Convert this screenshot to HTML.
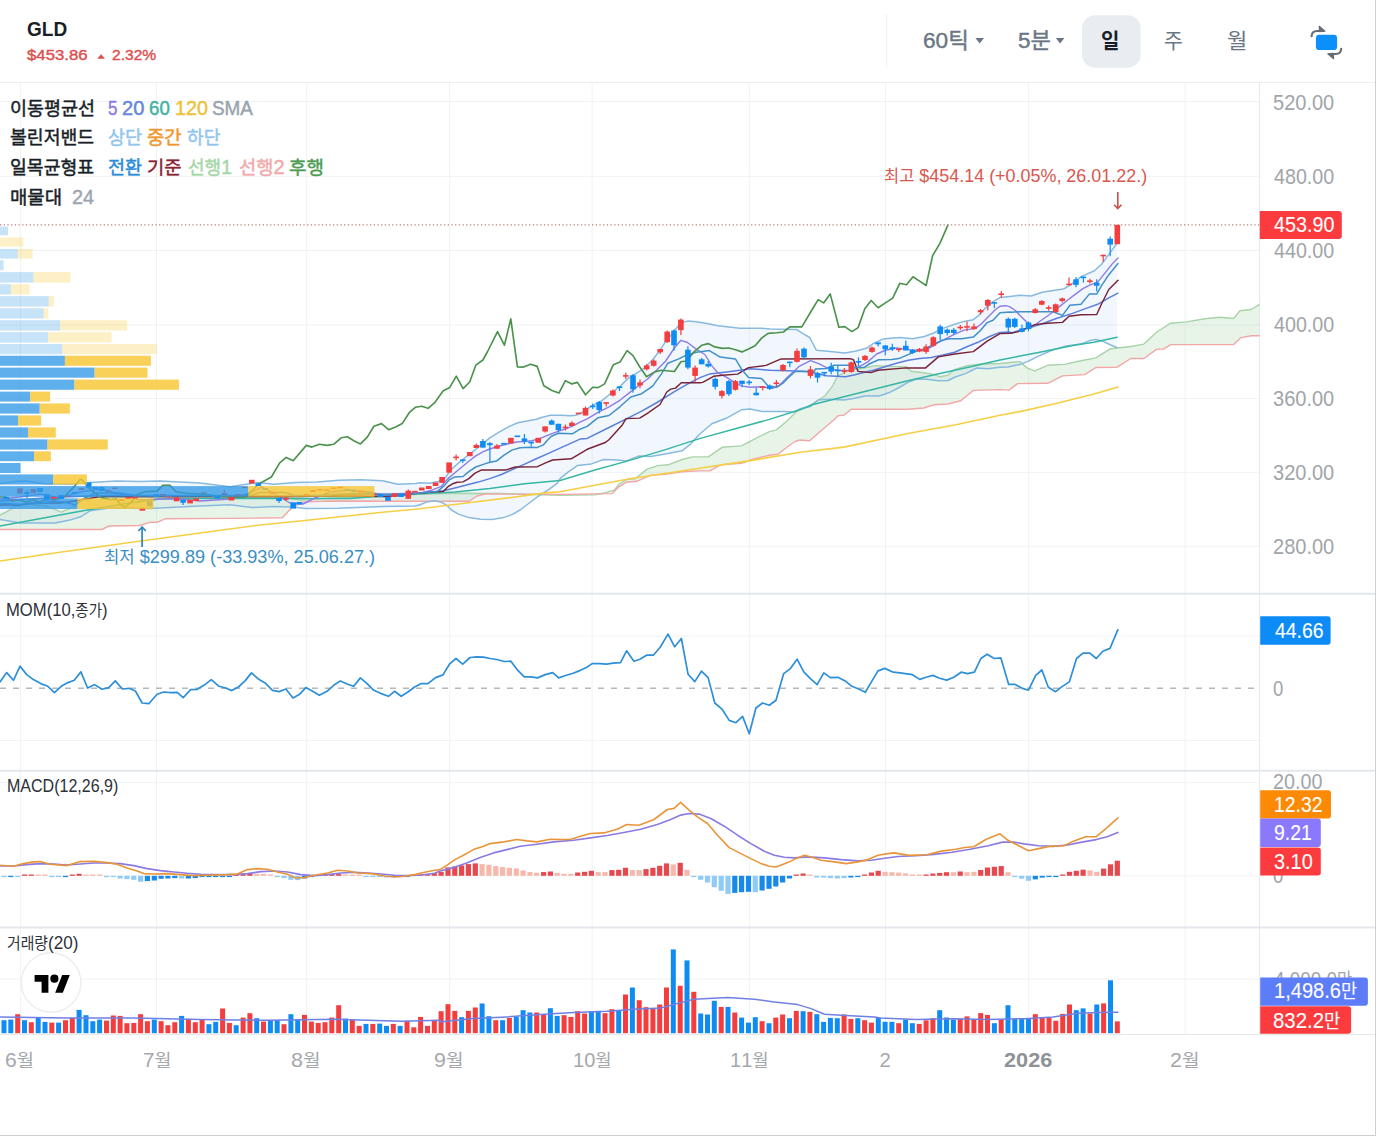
<!DOCTYPE html>
<html lang="ko"><head><meta charset="utf-8"><title>GLD chart</title>
<style>
html,body{margin:0;padding:0;background:#fff}
body{width:1376px;height:1136px;overflow:hidden;position:relative;font-family:"Liberation Sans","Noto Sans CJK KR",sans-serif}
#app{position:absolute;left:0;top:0;width:1376px;height:1136px;overflow:hidden;background:#fff}
svg.layer{position:absolute;left:0;top:0}
.t{position:absolute;white-space:pre;line-height:1.4;transform-origin:0 50%;font-kerning:none;font-family:"Liberation Sans","Noto Sans CJK KR",sans-serif}
.k{font-family:"Liberation Sans","Noto Sans CJK KR",sans-serif;line-height:1}
#frame{position:absolute;left:0;top:0;width:1375px;height:1135px;border-right:1px solid #cfcfcf;border-bottom:1px solid #cfcfcf;pointer-events:none}
</style></head>
<body><div id="app">
<svg class="layer" width="1376" height="1136" viewBox="0 0 1376 1136" shape-rendering="auto">
<line x1="20.4" y1="83" x2="20.4" y2="1034" stroke="#f0f2f4"/>
<line x1="156.5" y1="83" x2="156.5" y2="1034" stroke="#f0f2f4"/>
<line x1="306.7" y1="83" x2="306.7" y2="1034" stroke="#f0f2f4"/>
<line x1="449.6" y1="83" x2="449.6" y2="1034" stroke="#f0f2f4"/>
<line x1="592.1" y1="83" x2="592.1" y2="1034" stroke="#f0f2f4"/>
<line x1="749.3" y1="83" x2="749.3" y2="1034" stroke="#f0f2f4"/>
<line x1="885.5" y1="83" x2="885.5" y2="1034" stroke="#f0f2f4"/>
<line x1="1028.4" y1="83" x2="1028.4" y2="1034" stroke="#f0f2f4"/>
<line x1="1185.2" y1="83" x2="1185.2" y2="1034" stroke="#f0f2f4"/>
<line x1="0" y1="101.5" x2="1259.6" y2="101.5" stroke="#f0f2f4"/>
<line x1="0" y1="176.3" x2="1259.6" y2="176.3" stroke="#f0f2f4"/>
<line x1="0" y1="250.5" x2="1259.6" y2="250.5" stroke="#f0f2f4"/>
<line x1="0" y1="325" x2="1259.6" y2="325" stroke="#f0f2f4"/>
<line x1="0" y1="398.6" x2="1259.6" y2="398.6" stroke="#f0f2f4"/>
<line x1="0" y1="472.3" x2="1259.6" y2="472.3" stroke="#f0f2f4"/>
<line x1="0" y1="546.3" x2="1259.6" y2="546.3" stroke="#f0f2f4"/>
<line x1="0" y1="636.1" x2="1259.6" y2="636.1" stroke="#f0f2f4"/>
<line x1="0" y1="740.5" x2="1259.6" y2="740.5" stroke="#f0f2f4"/>
<line x1="0" y1="782.7" x2="1259.6" y2="782.7" stroke="#f0f2f4"/>
<line x1="0" y1="979" x2="1259.6" y2="979" stroke="#f0f2f4"/>
<line x1="0" y1="875.8" x2="1259.6" y2="875.8" stroke="#f0f2f4"/>
<line x1="0" y1="82.5" x2="1376" y2="82.5" stroke="#eceef1"/>
<line x1="0" y1="593.8" x2="1376" y2="593.8" stroke="#e3e7ec" stroke-width="2"/>
<line x1="0" y1="770.8" x2="1376" y2="770.8" stroke="#e3e7ec" stroke-width="2"/>
<line x1="0" y1="927.5" x2="1376" y2="927.5" stroke="#e3e7ec" stroke-width="2"/>
<line x1="0" y1="1034.5" x2="1376" y2="1034.5" stroke="#e6e8eb"/>
<line x1="1259.6" y1="83" x2="1259.6" y2="1034" stroke="#e6e8eb"/>
<line x1="886.5" y1="14" x2="886.5" y2="67" stroke="#f1f2f4"/>
<clipPath id="cp"><rect x="0" y="83" width="1259.6" height="952"/></clipPath>
<g clip-path="url(#cp)" fill="none" stroke-linejoin="round" stroke-linecap="round">
<polygon points="0,483.8 14.5,481.6 26.2,480.9 43.6,483.8 70,484 90,482.4 116.3,480.9 139.5,481.6 160,480.9 200,483.1 230,486.8 258.3,482.5 273.6,484.2 295.4,482.5 317.2,482 339,480.3 360.8,479.8 382.6,480.7 397.9,484.2 415.3,483.6 420,482.7 429.3,483.3 438.6,481.5 445.6,477.4 450.2,470.5 457.2,464.1 466.5,456.5 474.7,450.1 482.8,443.7 489.8,437.9 499.1,432.1 508.4,426.9 517.7,422.8 527,421 536.3,419.3 543.3,417 550.2,415.2 561.9,415.2 570,415.7 575.8,415.2 582.6,412.3 589.4,407.4 601.9,400.7 612.6,392 620.3,386.1 628.1,378.4 635.8,373.6 643.6,368.7 653.3,359 659.1,351.3 664.9,342.6 670.7,335.8 674.4,330.5 680.9,322.9 687.5,321.1 696.2,321.8 707.1,323.5 718,325.7 731.1,327.3 739.8,328.3 761.6,328.3 770,329 796.5,329.4 802.1,333.2 809.7,337.5 816.3,350.2 830.5,351.6 844.6,352.9 855,351.2 866.4,348.3 873.9,343.1 883.4,338.9 892.8,338 900,337.5 912.8,338.8 924.4,336.5 933.7,333 943,328.4 954.7,324.3 964,321.4 973.3,319.7 977.9,316.2 984.9,308.6 993,301.6 1000,297.6 1010,296.4 1019.8,295.3 1031.1,296 1042.2,292.3 1053.3,290.4 1063.5,289.1 1071.8,284 1081,276.6 1094,271 1101.4,264.5 1108.8,254.4 1117.1,243.3 1117.1,347.8 1110.6,345 1103.2,341.3 1095.8,339.4 1090.3,340.4 1081,344.1 1066.2,345.9 1051.4,350.5 1038.5,356.1 1027.4,361.6 1020,364.4 1008,367 1000,367.2 987.8,368.8 976.6,368 965.5,373.6 955.9,376.8 947.9,380.5 938.3,380.8 927.1,379.2 915.9,379.2 907.9,382.4 898.3,388 888.7,392.8 879.1,396 864.7,396 853.5,398.4 843.9,400 828,399.2 818.4,400 810.4,406.4 800,409 793.7,412.1 783.3,411.6 762.3,411.6 750.1,409 741.4,409.8 727.5,417.7 711.8,423.8 699.5,434.2 690.8,443.8 682.1,450.8 668.1,453.4 650.7,456.4 638.5,456.1 626.3,460.9 617.6,459.9 603.6,459.5 591.4,463.9 577.4,465.6 568.7,471.7 560,478.7 557.2,483.3 547.9,490.2 538.6,496 529.3,503 520,510 513,514.1 503.7,517.6 492.1,519.5 480.5,519.3 468.8,517.6 458.4,514.1 451.4,510 446.7,505.3 440.9,501.9 434,500.7 427,501.9 420,504.8 415.3,506 382.6,506.4 339,508.2 306.3,508.6 291,507.1 273.6,506.4 251.8,507.5 230,504.7 200,506 150,508.5 110,508 90.1,510.7 81.4,516.5 69.8,520.1 55.2,523 20.3,523 0,519.4" fill="rgba(95,160,235,0.085)" stroke="none"/>
<polygon points="0,515 8.7,510.7 14.5,506.3 30,504 48,506.3 61,512.2 69.8,508.5 85,497.2 110,497.2 140,497.2 170,497.2 200,497.2 230,497.2 255,497.2 283,497.2 300,500 330,498 380,497 420,494.3 449.1,493.3 501.4,493.5 560,495.3 594.9,494.8 605.4,492.7 614.1,490.1 619.3,484 626.3,479.6 635,478.7 647.2,469.1 657.7,465.6 668.1,464.8 682.1,459.5 692.6,456.9 708.3,456.9 722.2,447.3 741.4,445.9 751.9,440.4 769.3,431.6 776.3,429.9 786.8,421.2 793.7,414.2 800,409 808.8,406.4 816.8,400.8 824.8,396 832.8,385.6 837.6,376 847.1,371.2 859.9,368.8 875.9,365.6 891.9,366.4 906.3,366.7 911.1,371.2 923.9,372.8 933.5,374.4 939.9,376.8 947.9,375.2 954.3,369.6 967.1,365.6 981.4,364 1000,363.5 1019.8,361.6 1027.4,368.1 1034.8,370.9 1047.7,365.3 1064.4,364.4 1081,360.7 1095.8,357.9 1110.6,348.7 1130.9,346.5 1143.9,344.1 1156.8,332 1170.7,323.2 1186.4,321.9 1204.9,318.7 1219.7,317.2 1233.6,318.5 1240,310.8 1251.1,309.5 1259.6,304.3 1259.6,335.7 1251.1,335.7 1241,337.6 1233.6,344.6 1170.7,344.6 1163.3,349.1 1156.8,349.1 1143.9,358.5 1130.9,358.5 1117.1,367.2 1095.8,367.5 1084.7,374.6 1062.5,375.9 1047.7,383.3 1017.6,383.6 1008.9,390.1 1000,389.6 973.4,390.4 960.7,400.8 947.9,404 933.5,404.8 923.9,408 907.9,409.2 851.1,409.2 843.9,415.2 838.4,415.6 832.8,420.8 821.6,430.3 809.6,440.7 800,440 795.5,441.2 786.8,447.3 778,454.3 769.3,455.2 751.9,459.5 741.4,463.4 720.5,464.8 710,470.9 699.5,470.9 682.1,471.7 664.7,474.4 650.7,475.2 636.7,481.3 626.3,482.2 619.3,486.6 612.3,493.6 560,494.4 485.1,494 477,496 468.8,501.3 420,501.3 330,501 302,502.1 291,508.6 282.3,517.8 230,518.4 165.7,518.7 157,522.3 149.7,522.3 139.5,525.5 109,526 101.7,529.5 0,529.5" fill="rgba(150,205,150,0.22)" stroke="none"/>
<polyline points="0,515 8.7,510.7 14.5,506.3 30,504 48,506.3 61,512.2 69.8,508.5 85,497.2 110,497.2 140,497.2 170,497.2 200,497.2 230,497.2 255,497.2 283,497.2 300,500 330,498 380,497 420,494.3 449.1,493.3 501.4,493.5 560,495.3 594.9,494.8 605.4,492.7 614.1,490.1 619.3,484 626.3,479.6 635,478.7 647.2,469.1 657.7,465.6 668.1,464.8 682.1,459.5 692.6,456.9 708.3,456.9 722.2,447.3 741.4,445.9 751.9,440.4 769.3,431.6 776.3,429.9 786.8,421.2 793.7,414.2 800,409 808.8,406.4 816.8,400.8 824.8,396 832.8,385.6 837.6,376 847.1,371.2 859.9,368.8 875.9,365.6 891.9,366.4 906.3,366.7 911.1,371.2 923.9,372.8 933.5,374.4 939.9,376.8 947.9,375.2 954.3,369.6 967.1,365.6 981.4,364 1000,363.5 1019.8,361.6 1027.4,368.1 1034.8,370.9 1047.7,365.3 1064.4,364.4 1081,360.7 1095.8,357.9 1110.6,348.7 1130.9,346.5 1143.9,344.1 1156.8,332 1170.7,323.2 1186.4,321.9 1204.9,318.7 1219.7,317.2 1233.6,318.5 1240,310.8 1251.1,309.5 1259.6,304.3" stroke="#a9d3a9" stroke-width="1.4" />
<polyline points="0,529.5 101.7,529.5 109,526 139.5,525.5 149.7,522.3 157,522.3 165.7,518.7 230,518.4 282.3,517.8 291,508.6 302,502.1 330,501 420,501.3 468.8,501.3 477,496 485.1,494 560,494.4 612.3,493.6 619.3,486.6 626.3,482.2 636.7,481.3 650.7,475.2 664.7,474.4 682.1,471.7 699.5,470.9 710,470.9 720.5,464.8 741.4,463.4 751.9,459.5 769.3,455.2 778,454.3 786.8,447.3 795.5,441.2 800,440 809.6,440.7 821.6,430.3 832.8,420.8 838.4,415.6 843.9,415.2 851.1,409.2 907.9,409.2 923.9,408 933.5,404.8 947.9,404 960.7,400.8 973.4,390.4 1000,389.6 1008.9,390.1 1017.6,383.6 1047.7,383.3 1062.5,375.9 1084.7,374.6 1095.8,367.5 1117.1,367.2 1130.9,358.5 1143.9,358.5 1156.8,349.1 1163.3,349.1 1170.7,344.6 1233.6,344.6 1241,337.6 1251.1,335.7 1259.6,335.7" stroke="#f2a7a7" stroke-width="1.4" />
<polyline points="0,483.8 14.5,481.6 26.2,480.9 43.6,483.8 70,484 90,482.4 116.3,480.9 139.5,481.6 160,480.9 200,483.1 230,486.8 258.3,482.5 273.6,484.2 295.4,482.5 317.2,482 339,480.3 360.8,479.8 382.6,480.7 397.9,484.2 415.3,483.6 420,482.7 429.3,483.3 438.6,481.5 445.6,477.4 450.2,470.5 457.2,464.1 466.5,456.5 474.7,450.1 482.8,443.7 489.8,437.9 499.1,432.1 508.4,426.9 517.7,422.8 527,421 536.3,419.3 543.3,417 550.2,415.2 561.9,415.2 570,415.7 575.8,415.2 582.6,412.3 589.4,407.4 601.9,400.7 612.6,392 620.3,386.1 628.1,378.4 635.8,373.6 643.6,368.7 653.3,359 659.1,351.3 664.9,342.6 670.7,335.8 674.4,330.5 680.9,322.9 687.5,321.1 696.2,321.8 707.1,323.5 718,325.7 731.1,327.3 739.8,328.3 761.6,328.3 770,329 796.5,329.4 802.1,333.2 809.7,337.5 816.3,350.2 830.5,351.6 844.6,352.9 855,351.2 866.4,348.3 873.9,343.1 883.4,338.9 892.8,338 900,337.5 912.8,338.8 924.4,336.5 933.7,333 943,328.4 954.7,324.3 964,321.4 973.3,319.7 977.9,316.2 984.9,308.6 993,301.6 1000,297.6 1010,296.4 1019.8,295.3 1031.1,296 1042.2,292.3 1053.3,290.4 1063.5,289.1 1071.8,284 1081,276.6 1094,271 1101.4,264.5 1108.8,254.4 1117.1,243.3" stroke="#88badf" stroke-width="1.5" />
<polyline points="0,519.4 20.3,523 55.2,523 69.8,520.1 81.4,516.5 90.1,510.7 110,508 150,508.5 200,506 230,504.7 251.8,507.5 273.6,506.4 291,507.1 306.3,508.6 339,508.2 382.6,506.4 415.3,506 420,504.8 427,501.9 434,500.7 440.9,501.9 446.7,505.3 451.4,510 458.4,514.1 468.8,517.6 480.5,519.3 492.1,519.5 503.7,517.6 513,514.1 520,510 529.3,503 538.6,496 547.9,490.2 557.2,483.3 560,478.7 568.7,471.7 577.4,465.6 591.4,463.9 603.6,459.5 617.6,459.9 626.3,460.9 638.5,456.1 650.7,456.4 668.1,453.4 682.1,450.8 690.8,443.8 699.5,434.2 711.8,423.8 727.5,417.7 741.4,409.8 750.1,409 762.3,411.6 783.3,411.6 793.7,412.1 800,409 810.4,406.4 818.4,400 828,399.2 843.9,400 853.5,398.4 864.7,396 879.1,396 888.7,392.8 898.3,388 907.9,382.4 915.9,379.2 927.1,379.2 938.3,380.8 947.9,380.5 955.9,376.8 965.5,373.6 976.6,368 987.8,368.8 1000,367.2 1008,367 1020,364.4 1027.4,361.6 1038.5,356.1 1051.4,350.5 1066.2,345.9 1081,344.1 1090.3,340.4 1095.8,339.4 1103.2,341.3 1110.6,345 1117.1,347.8" stroke="#88badf" stroke-width="1.5" />
<polyline points="0,561 60,552.3 130,542.5 200,533 260,525 300,521 382.6,512.3 420,508.8 466.5,503 513,497.2 547.9,492.6 560,491.8 629.8,478.7 699.5,468.3 751.9,460.4 800,452.2 843.9,447.1 907.9,433.5 955.9,424.7 1000,415.2 1019.8,411.6 1057,403.2 1094,394 1118,387.1" stroke="#f6cf45" stroke-width="1.6" />
<polyline points="0,526 43.6,518 87.2,510 130.8,502.7 159.9,499.1 174.4,498.4 200,498.4 250,498.4 300,498.4 350,498.4 411,493.4 420,493.7 454.9,492 489.8,488.5 524.7,483.8 560,480.5 594.9,470 629.8,460.4 664.7,449.9 699.5,438.6 734.4,429 769.3,419.4 800,409.8 812,404.8 843.9,396.8 875.9,388.8 907.9,380.8 939.9,373.6 971.8,366.4 1000,360 1020,356.1 1038.5,352.4 1057,348.7 1075.5,345 1094,342.2 1117.1,337.2" stroke="#36b6a4" stroke-width="1.5" />
<polyline points="0,501 30,499 60,497 90,496 120,495 150,496 180,496 210,496 240,496 270,496 300,496 330,496 360,494 390,494 420,493.1 443.3,490.8 454.9,487.9 466.5,485 478.1,482.1 489.8,478.6 501.4,474.5 513,469.3 524.7,464.1 536.3,458.8 547.9,453.6 559.5,448.4 571.2,443.1 580,439.1 587.2,438.4 609,427.5 626.4,418.8 641.7,411.2 657,402.5 674.4,391.6 689.7,382.8 700.6,377.4 709.3,374.1 726.7,371.9 739.8,370.2 750.7,368.7 770,370.3 795.5,371 806.8,371.5 814.4,372.9 826.7,375.7 845.6,376.7 855,374.8 861.6,373.1 873.3,370.2 884.9,366.7 896.5,363.3 908.1,360.3 919.8,358.6 931.4,357.4 943,355.1 954.7,352.2 966.3,347 977.9,342.3 989.5,336.5 1000,332.4 1010,331.9 1011,333.2 1020,330.2 1031.1,327.4 1042.2,323.7 1057,318.2 1071.8,313.6 1084.7,308.9 1097.7,304.3 1108.8,297.8 1118,293.2" stroke="#5b7fdd" stroke-width="1.5" />
<polyline points="0,499 20,497 40,494 60,498 80,492 100,489 120,494 140,500 160,499 180,499 200,501 230,499 250,493 262,487 275,494 290,503 303,504 315,498 330,492 350,490 370,492 385,496 400,496 412,493 420,493.1 431.6,490.2 440.9,486.7 447.9,478.6 454.9,472.8 461.9,467 468.8,461.2 475.8,455.9 482.8,451.9 489.8,449 499.1,446 508.4,443.7 516.5,442 524.7,441.4 531.6,440.8 538.6,439.1 545.6,436.2 552.6,433.3 559.5,430.9 566.5,428.6 573.5,425.7 580,422.2 587.2,418.8 598.1,412.3 609,406.8 619.9,400.3 630.8,391.6 639.5,385 648.2,378.5 657,369.8 665.7,361 674.4,348 680.9,340.3 687.5,342.5 696.2,349.1 704.9,354.5 711.5,365.4 718,373 726.7,377.4 735.4,382.8 742,386.1 750.7,387.2 761.6,386.8 772.5,388.3 779,385.7 788.7,375.9 799.6,366.1 810.5,360.7 819.2,363.9 828,368.3 838.9,370.5 850,370.2 859.3,366.7 867.4,362.1 876.7,354 884.9,350.5 896.5,347.9 910.5,349.9 922.1,350.5 931.4,347 938.4,342.3 946.5,338.3 954.7,334.2 964,330.1 975.6,328.4 981.4,323.7 989.5,315.6 995.3,309.8 1000,306.3 1005.8,305.7 1010,306.9 1015.4,310.5 1020,315.4 1027.4,322.8 1032.9,326.5 1040.3,321 1049.6,314.5 1058.8,307.1 1068.1,299.7 1075.5,294.1 1082.9,288.6 1090.3,284.9 1097.7,282.1 1105.1,272.9 1112.5,263.6 1118,258.1" stroke="#8d7ce6" stroke-width="1.4" />
<polyline points="0,505 20,505 30,503 60,503 75,501 100,496.6 130,496.6 150,496.6 175,496.6 200,496.6 230,496.6 250,496.6 262,496.6 300,496.6 320,496 360,496 385,496.6 420,493.1 443.3,491.4 447.9,486.7 452.6,483.8 457.2,482.3 463,481.9 468.8,478.6 474.7,473.4 481.6,469.9 506,469.9 515.3,467 537.4,466.7 545.6,462.9 552.6,460 571.2,458.8 580,453.6 587.2,449.3 604.6,442.8 608.7,440 622.3,424.9 626.1,418.6 639.7,418.1 647.4,413.3 660,404.5 666.8,392 670.7,389.1 675.5,388.1 681.3,382.8 700,382.8 702.7,382.4 713.6,376.3 722.4,375.2 737.6,374.1 748.5,367.6 766,365.4 781.2,358.9 850,358.6 853.5,359.8 858.1,371.4 870.9,372.6 877.9,370.2 905.8,367.9 925.6,367.9 938.4,356.9 954.7,354 973.3,351.6 987.2,341.2 1000,333.6 1010,333.3 1017.6,331.9 1028.5,327.4 1034.8,324.6 1047.7,323.2 1062.5,322.4 1069,316.3 1081,314.8 1096.7,314.5 1101.4,304.3 1108.8,289.5 1118,280.3" stroke="#7a2236" stroke-width="1.45" />
<polyline points="0,503.4 8.7,503.4 14.5,504.2 30,504 55.2,501.3 64,502 75.6,504.9 85,498 95,493 120,493 135,495.6 150,495.6 165,495.6 180,495.6 200,495.6 230,495.6 250,495.6 260,492.5 285,492.5 295,495.6 320,495.6 340,494 365,493.5 385,495 405,495 420,493.1 437.4,491.4 444.4,485.6 449.1,479.8 454.9,476.9 463,476.5 468.8,471.6 475.8,467 484,464.1 489.8,462.3 496.7,460.9 503.7,455.3 511.9,450.1 520,447.8 530.5,447.2 537.4,447.4 543.3,444.9 547.9,439.7 551.4,436.2 558.4,433.3 572.3,433.8 580,429.2 587.2,426.4 598.1,417.7 609,415.5 619.9,406.8 630.8,397 641.7,393.7 652.6,386.1 661.3,374.1 667.9,363.2 678.8,358.9 685.3,355.6 696.2,352.3 709.3,350.6 720.2,357.1 735.4,358.9 742,369.8 748.5,377.4 761.6,378.5 768.1,386.1 776.9,387.2 783.4,382.8 788,378 795.5,371.2 806.8,371.5 814.4,371.5 815.3,369.1 826.7,368.4 834.2,365.2 848.4,365.2 852.2,366.8 858,367.6 864.5,367.2 870.1,363.5 878.7,359.7 891.9,359.5 898.8,358.6 907,355.1 915.1,351.6 926.7,348.1 934.9,343.5 943,340 950,338.8 961.6,338.8 973.3,337.1 980.2,330.7 987.2,322.6 993,320.2 1000,312.7 1010,312.1 1011.1,312.3 1020,311.7 1053.3,311.7 1062.5,315.4 1069.9,305.2 1081,304.3 1089.3,294.1 1096.7,294.1 1101.4,285.8 1108.8,274.7 1118,263.6" stroke="#4290c9" stroke-width="1.5" />
<polyline points="0,497 6,497 12,501 19,500 26,502 33,500 40,502 47,499 54,500 60,498 64,497 74.1,486.7 80,479.4 82.8,480.2 87.2,486 93,491.8 101.7,497.6 110.5,499.8 116.3,499.1 120.6,504.9 125,507.1 130.8,502.7 136.6,494.7 141,493.3 145.3,491.8 157,491.1 162.8,485.3 170,485.3 175.9,491.8 186,493.3 200,494 215,496 230,497 245,497 252,491 258.3,484.2 271.4,477 279.7,462.8 286.2,457.4 293.2,460.7 306.3,445.4 311.8,447.1 319.4,444.3 327,445.4 333.6,444.3 341.2,437.8 347.3,436.7 354.3,441 360.4,443.9 367.3,437.1 373.9,426.2 381.5,423.6 388.7,429.7 395.7,426.9 402.2,423.6 409.2,412.7 415.3,407.3 421.8,406.2 428,408.3 434.5,402.9 436.6,400 443.2,390.7 449.8,387.4 456.3,376.1 463.1,388.6 469.7,382 475.8,365.2 482.9,360 487.6,351.5 497.5,331.6 504.4,345.2 510.8,318.9 517.4,366.9 523.5,367.1 530.6,364.2 537.2,366.4 543.8,385.8 551.9,390.5 558.9,393.1 565.4,380.7 571.9,383.9 577.4,382.4 585.5,394.8 592.7,387.2 598.1,387.6 604.6,383.9 613.4,364.7 619.9,362.1 627.1,350.6 633,355.6 639.5,366.5 646.5,376.7 654.8,371.9 661.3,370.2 674.4,371.5 680.9,361.7 686.4,361 694,351.9 701.7,345.3 708.2,343.6 714.7,346.9 722.4,348.4 728.9,348 735.4,349.7 742,351.9 748.5,349 755.1,345.8 761.6,338.1 768.1,333.4 776.9,332.7 783.4,332 789.8,326.9 801.8,326.9 811.6,310.5 818.2,299.6 823.6,302.9 830.2,293.9 838.9,327.2 844.7,326.6 852,331.6 858.1,327.6 864.8,308.8 871.2,300.5 878.1,307.7 885.4,302.9 892.7,298.1 899.7,283.3 906.5,284.8 913,276.8 919.6,281.1 926.1,285.5 932.6,255.7 939.9,243.3 947.9,225.2" stroke="#4c924c" stroke-width="1.65" />
<line x1="0" y1="224.8" x2="1259.6" y2="224.8" stroke="#b9827c" stroke-width="1.2" stroke-dasharray="1.3 2.4" stroke-linecap="butt"/>
<rect x="3.4" y="497" width="5.6" height="2.5" fill="#0f8cf3" stroke="none"/>
<rect x="10.2" y="499" width="5.6" height="2" fill="#f33d3e" stroke="none"/>
<rect x="17.1" y="488.4" width="5.6" height="5.2" fill="#f33d3e" stroke="none"/>
<line x1="26.9" y1="490" x2="26.9" y2="498" stroke="#0f8cf3" stroke-width="1.2" stroke-linecap="butt"/>
<rect x="24.1" y="492" width="5.6" height="2" fill="#0f8cf3" stroke="none"/>
<rect x="30.6" y="489" width="5.6" height="4" fill="#f33d3e" stroke="none"/>
<rect x="37.2" y="488" width="5.6" height="4" fill="#0f8cf3" stroke="none"/>
<rect x="44" y="494" width="5.6" height="6.5" fill="#0f8cf3" stroke="none"/>
<rect x="51" y="496.5" width="5.6" height="3.5" fill="#f33d3e" stroke="none"/>
<rect x="58.2" y="495" width="5.6" height="4" fill="#0f8cf3" stroke="none"/>
<rect x="64.8" y="495.5" width="5.6" height="1.5" fill="#f33d3e" stroke="none"/>
<rect x="71.7" y="492" width="5.6" height="2" fill="#0f8cf3" stroke="none"/>
<rect x="78.7" y="488" width="5.6" height="2" fill="#f33d3e" stroke="none"/>
<rect x="85.9" y="482.4" width="5.6" height="5.8" fill="#0f8cf3" stroke="none"/>
<rect x="92.4" y="487" width="5.6" height="2" fill="#0f8cf3" stroke="none"/>
<rect x="98.9" y="487" width="5.6" height="4" fill="#0f8cf3" stroke="none"/>
<rect x="105.5" y="490.5" width="5.6" height="1.5" fill="#f33d3e" stroke="none"/>
<rect x="112" y="487.5" width="5.6" height="1.5" fill="#f33d3e" stroke="none"/>
<rect x="118.7" y="499" width="5.6" height="2" fill="#f33d3e" stroke="none"/>
<rect x="125.5" y="497" width="5.6" height="2" fill="#f33d3e" stroke="none"/>
<rect x="132.2" y="496.5" width="5.6" height="2" fill="#f33d3e" stroke="none"/>
<rect x="139.6" y="507.8" width="5.6" height="2.9" fill="#f33d3e" stroke="none"/>
<rect x="146.9" y="501.3" width="5.6" height="5" fill="#0f8cf3" stroke="none"/>
<rect x="153.5" y="494" width="5.6" height="3" fill="#0f8cf3" stroke="none"/>
<rect x="160" y="494" width="5.6" height="2" fill="#f33d3e" stroke="none"/>
<rect x="166.5" y="496" width="5.6" height="1.5" fill="#f33d3e" stroke="none"/>
<rect x="173.8" y="497.3" width="5.6" height="4" fill="#f33d3e" stroke="none"/>
<line x1="183.1" y1="499.8" x2="183.1" y2="505" stroke="#0f8cf3" stroke-width="1.2" stroke-linecap="butt"/>
<rect x="180.3" y="499.8" width="5.6" height="2.9" fill="#0f8cf3" stroke="none"/>
<rect x="187.3" y="499.8" width="5.6" height="3.6" fill="#f33d3e" stroke="none"/>
<rect x="193.4" y="498.5" width="5.6" height="2.5" fill="#f33d3e" stroke="none"/>
<rect x="201.2" y="492.5" width="5.6" height="1.5" fill="#f33d3e" stroke="none"/>
<rect x="207.9" y="494.5" width="5.6" height="1.5" fill="#0f8cf3" stroke="none"/>
<rect x="214.6" y="495.5" width="5.6" height="2.8" fill="#0f8cf3" stroke="none"/>
<line x1="224.4" y1="490" x2="224.4" y2="496.5" stroke="#f33d3e" stroke-width="1.2" stroke-linecap="butt"/>
<rect x="221.6" y="493" width="5.6" height="2" fill="#f33d3e" stroke="none"/>
<rect x="228.7" y="497" width="5.6" height="3.5" fill="#f33d3e" stroke="none"/>
<rect x="235.2" y="494" width="5.6" height="2" fill="#f33d3e" stroke="none"/>
<rect x="241.7" y="486.8" width="5.6" height="1.4" fill="#f33d3e" stroke="none"/>
<rect x="249" y="479.8" width="5.6" height="3.8" fill="#f33d3e" stroke="none"/>
<rect x="255.5" y="483.2" width="5.6" height="2.8" fill="#0f8cf3" stroke="none"/>
<rect x="262.2" y="488" width="5.6" height="2" fill="#0f8cf3" stroke="none"/>
<rect x="269.2" y="492" width="5.6" height="2" fill="#f33d3e" stroke="none"/>
<line x1="279" y1="498" x2="279" y2="503" stroke="#0f8cf3" stroke-width="1.2" stroke-linecap="butt"/>
<rect x="276.2" y="498" width="5.6" height="3" fill="#0f8cf3" stroke="none"/>
<line x1="286" y1="497" x2="286" y2="501" stroke="#f33d3e" stroke-width="1.2" stroke-linecap="butt"/>
<rect x="283.2" y="498" width="5.6" height="1.6" fill="#f33d3e" stroke="none"/>
<rect x="290.4" y="502.5" width="5.6" height="6.1" fill="#0f8cf3" stroke="none"/>
<rect x="296.5" y="502" width="5.6" height="2.5" fill="#0f8cf3" stroke="none"/>
<rect x="303.5" y="494" width="5.6" height="2" fill="#f33d3e" stroke="none"/>
<rect x="310.2" y="490" width="5.6" height="2" fill="#f33d3e" stroke="none"/>
<rect x="317.2" y="489" width="5.6" height="1.5" fill="#f33d3e" stroke="none"/>
<rect x="324" y="489.5" width="5.6" height="1.5" fill="#f33d3e" stroke="none"/>
<rect x="330.8" y="487.5" width="5.6" height="1.5" fill="#f33d3e" stroke="none"/>
<rect x="337.6" y="486.8" width="5.6" height="1.5" fill="#f33d3e" stroke="none"/>
<rect x="344.4" y="489" width="5.6" height="1.5" fill="#0f8cf3" stroke="none"/>
<rect x="351.2" y="490" width="5.6" height="2" fill="#0f8cf3" stroke="none"/>
<rect x="358" y="491" width="5.6" height="1.5" fill="#f33d3e" stroke="none"/>
<rect x="364.8" y="492.5" width="5.6" height="1.5" fill="#0f8cf3" stroke="none"/>
<rect x="371.2" y="494" width="5.6" height="1.5" fill="#f33d3e" stroke="none"/>
<rect x="377.6" y="494" width="5.6" height="3" fill="#0f8cf3" stroke="none"/>
<rect x="385.2" y="496.8" width="5.6" height="4" fill="#0f8cf3" stroke="none"/>
<rect x="391.8" y="493.3" width="5.6" height="3.6" fill="#f33d3e" stroke="none"/>
<rect x="398.3" y="494" width="5.6" height="3" fill="#0f8cf3" stroke="none"/>
<line x1="408.3" y1="489.5" x2="408.3" y2="498.8" stroke="#f33d3e" stroke-width="1.2" stroke-linecap="butt"/>
<rect x="405.5" y="490.7" width="5.6" height="8.1" fill="#f33d3e" stroke="none"/>
<rect x="412.1" y="490.8" width="5.6" height="1.6" fill="#f33d3e" stroke="none"/>
<rect x="419" y="487.5" width="5.6" height="3" fill="#f33d3e" stroke="none"/>
<rect x="426" y="486" width="5.6" height="3" fill="#f33d3e" stroke="none"/>
<rect x="432.8" y="482.5" width="5.6" height="3.5" fill="#f33d3e" stroke="none"/>
<rect x="439.3" y="477" width="5.6" height="5.9" fill="#f33d3e" stroke="none"/>
<rect x="446.3" y="462.4" width="5.6" height="10.3" fill="#f33d3e" stroke="none"/>
<line x1="456.1" y1="454.5" x2="456.1" y2="460.5" stroke="#f33d3e" stroke-width="1.2" stroke-linecap="butt"/>
<rect x="453.3" y="456.6" width="5.6" height="1.6" fill="#f33d3e" stroke="none"/>
<line x1="462.8" y1="459.4" x2="462.8" y2="463" stroke="#0f8cf3" stroke-width="1.2" stroke-linecap="butt"/>
<rect x="460" y="459.4" width="5.6" height="1.6" fill="#0f8cf3" stroke="none"/>
<rect x="467" y="452" width="5.6" height="4.2" fill="#f33d3e" stroke="none"/>
<line x1="476.3" y1="443.5" x2="476.3" y2="448" stroke="#f33d3e" stroke-width="1.2" stroke-linecap="butt"/>
<rect x="473.5" y="445" width="5.6" height="3" fill="#f33d3e" stroke="none"/>
<line x1="482.9" y1="439" x2="482.9" y2="447.6" stroke="#0f8cf3" stroke-width="1.2" stroke-linecap="butt"/>
<rect x="480.1" y="441" width="5.6" height="6.6" fill="#0f8cf3" stroke="none"/>
<line x1="489.9" y1="442" x2="489.9" y2="461.8" stroke="#0f8cf3" stroke-width="1.2" stroke-linecap="butt"/>
<rect x="487.1" y="443.2" width="5.6" height="2" fill="#0f8cf3" stroke="none"/>
<line x1="497" y1="444" x2="497" y2="448.7" stroke="#f33d3e" stroke-width="1.2" stroke-linecap="butt"/>
<rect x="494.2" y="445.5" width="5.6" height="3.2" fill="#f33d3e" stroke="none"/>
<rect x="501.2" y="442.9" width="5.6" height="1.6" fill="#0f8cf3" stroke="none"/>
<rect x="508.1" y="437.8" width="5.6" height="5.6" fill="#f33d3e" stroke="none"/>
<rect x="514.6" y="435.5" width="5.6" height="1.6" fill="#0f8cf3" stroke="none"/>
<line x1="524.4" y1="434" x2="524.4" y2="443.9" stroke="#0f8cf3" stroke-width="1.2" stroke-linecap="butt"/>
<rect x="521.6" y="438.4" width="5.6" height="3.3" fill="#0f8cf3" stroke="none"/>
<line x1="531.2" y1="441.7" x2="531.2" y2="446.5" stroke="#0f8cf3" stroke-width="1.2" stroke-linecap="butt"/>
<rect x="528.4" y="441.7" width="5.6" height="1.7" fill="#0f8cf3" stroke="none"/>
<rect x="535.4" y="437.8" width="5.6" height="5" fill="#f33d3e" stroke="none"/>
<line x1="545.1" y1="426.4" x2="545.1" y2="432.5" stroke="#f33d3e" stroke-width="1.2" stroke-linecap="butt"/>
<rect x="542.3" y="426.4" width="5.6" height="5.1" fill="#f33d3e" stroke="none"/>
<line x1="551.7" y1="419.5" x2="551.7" y2="424.7" stroke="#0f8cf3" stroke-width="1.2" stroke-linecap="butt"/>
<rect x="548.9" y="420.6" width="5.6" height="4.1" fill="#0f8cf3" stroke="none"/>
<line x1="558.4" y1="423.8" x2="558.4" y2="432.5" stroke="#0f8cf3" stroke-width="1.2" stroke-linecap="butt"/>
<rect x="555.6" y="423.8" width="5.6" height="6.3" fill="#0f8cf3" stroke="none"/>
<line x1="565.4" y1="424.5" x2="565.4" y2="430.5" stroke="#f33d3e" stroke-width="1.2" stroke-linecap="butt"/>
<rect x="562.6" y="426.7" width="5.6" height="1.6" fill="#f33d3e" stroke="none"/>
<line x1="571.9" y1="421.2" x2="571.9" y2="426" stroke="#f33d3e" stroke-width="1.2" stroke-linecap="butt"/>
<rect x="569.1" y="422.7" width="5.6" height="3.3" fill="#f33d3e" stroke="none"/>
<rect x="575.7" y="412.6" width="5.6" height="1.6" fill="#f33d3e" stroke="none"/>
<line x1="585.5" y1="406.5" x2="585.5" y2="415.5" stroke="#f33d3e" stroke-width="1.2" stroke-linecap="butt"/>
<rect x="582.7" y="407.9" width="5.6" height="7.6" fill="#f33d3e" stroke="none"/>
<line x1="592.7" y1="403.5" x2="592.7" y2="409" stroke="#0f8cf3" stroke-width="1.2" stroke-linecap="butt"/>
<rect x="589.9" y="405.6" width="5.6" height="1.6" fill="#0f8cf3" stroke="none"/>
<line x1="599.2" y1="401" x2="599.2" y2="413.4" stroke="#0f8cf3" stroke-width="1.2" stroke-linecap="butt"/>
<rect x="596.4" y="402" width="5.6" height="8.1" fill="#0f8cf3" stroke="none"/>
<line x1="606.2" y1="402.1" x2="606.2" y2="406.5" stroke="#f33d3e" stroke-width="1.2" stroke-linecap="butt"/>
<rect x="603.4" y="402.1" width="5.6" height="1.6" fill="#f33d3e" stroke="none"/>
<line x1="612.9" y1="389.5" x2="612.9" y2="396.5" stroke="#f33d3e" stroke-width="1.2" stroke-linecap="butt"/>
<rect x="610.1" y="390.5" width="5.6" height="5" fill="#f33d3e" stroke="none"/>
<line x1="619.5" y1="386.4" x2="619.5" y2="391" stroke="#0f8cf3" stroke-width="1.2" stroke-linecap="butt"/>
<rect x="616.7" y="386.4" width="5.6" height="1.6" fill="#0f8cf3" stroke="none"/>
<line x1="625.8" y1="372.5" x2="625.8" y2="379" stroke="#f33d3e" stroke-width="1.2" stroke-linecap="butt"/>
<rect x="623" y="375.1" width="5.6" height="1.6" fill="#f33d3e" stroke="none"/>
<line x1="633" y1="374" x2="633" y2="392.7" stroke="#0f8cf3" stroke-width="1.2" stroke-linecap="butt"/>
<rect x="630.2" y="375.2" width="5.6" height="14.2" fill="#0f8cf3" stroke="none"/>
<line x1="640" y1="379.6" x2="640" y2="388.3" stroke="#f33d3e" stroke-width="1.2" stroke-linecap="butt"/>
<rect x="637.2" y="382.4" width="5.6" height="3.1" fill="#f33d3e" stroke="none"/>
<line x1="646.7" y1="364" x2="646.7" y2="370.5" stroke="#f33d3e" stroke-width="1.2" stroke-linecap="butt"/>
<rect x="643.9" y="365.4" width="5.6" height="3.9" fill="#f33d3e" stroke="none"/>
<line x1="653.7" y1="359.5" x2="653.7" y2="366.5" stroke="#f33d3e" stroke-width="1.2" stroke-linecap="butt"/>
<rect x="650.9" y="360.6" width="5.6" height="5.2" fill="#f33d3e" stroke="none"/>
<line x1="660.2" y1="349" x2="660.2" y2="354" stroke="#f33d3e" stroke-width="1.2" stroke-linecap="butt"/>
<rect x="657.4" y="349" width="5.6" height="3.3" fill="#f33d3e" stroke="none"/>
<line x1="667.2" y1="330.5" x2="667.2" y2="343" stroke="#f33d3e" stroke-width="1.2" stroke-linecap="butt"/>
<rect x="664.4" y="331.6" width="5.6" height="10.5" fill="#f33d3e" stroke="none"/>
<line x1="674" y1="329.5" x2="674" y2="350.6" stroke="#0f8cf3" stroke-width="1.2" stroke-linecap="butt"/>
<rect x="671.2" y="330.5" width="5.6" height="14.8" fill="#0f8cf3" stroke="none"/>
<line x1="680.9" y1="318.5" x2="680.9" y2="334.9" stroke="#f33d3e" stroke-width="1.2" stroke-linecap="butt"/>
<rect x="678.1" y="319.6" width="5.6" height="10.5" fill="#f33d3e" stroke="none"/>
<line x1="687.9" y1="346.2" x2="687.9" y2="369.3" stroke="#0f8cf3" stroke-width="1.2" stroke-linecap="butt"/>
<rect x="685.1" y="349.7" width="5.6" height="17.9" fill="#0f8cf3" stroke="none"/>
<line x1="695.1" y1="365.5" x2="695.1" y2="381.8" stroke="#f33d3e" stroke-width="1.2" stroke-linecap="butt"/>
<rect x="692.3" y="367.6" width="5.6" height="8.3" fill="#f33d3e" stroke="none"/>
<line x1="701.7" y1="358" x2="701.7" y2="364.3" stroke="#0f8cf3" stroke-width="1.2" stroke-linecap="butt"/>
<rect x="698.9" y="359.3" width="5.6" height="5" fill="#0f8cf3" stroke="none"/>
<line x1="708.2" y1="361" x2="708.2" y2="367.6" stroke="#0f8cf3" stroke-width="1.2" stroke-linecap="butt"/>
<rect x="705.4" y="363.9" width="5.6" height="2.6" fill="#0f8cf3" stroke="none"/>
<line x1="715.2" y1="377.5" x2="715.2" y2="389.4" stroke="#0f8cf3" stroke-width="1.2" stroke-linecap="butt"/>
<rect x="712.4" y="378.9" width="5.6" height="7.9" fill="#0f8cf3" stroke="none"/>
<line x1="721.9" y1="390" x2="721.9" y2="398.5" stroke="#f33d3e" stroke-width="1.2" stroke-linecap="butt"/>
<rect x="719.1" y="391.1" width="5.6" height="4.8" fill="#f33d3e" stroke="none"/>
<line x1="728.9" y1="380" x2="728.9" y2="395.9" stroke="#0f8cf3" stroke-width="1.2" stroke-linecap="butt"/>
<rect x="726.1" y="381.1" width="5.6" height="13.1" fill="#0f8cf3" stroke="none"/>
<line x1="735.4" y1="380" x2="735.4" y2="390.5" stroke="#f33d3e" stroke-width="1.2" stroke-linecap="butt"/>
<rect x="732.6" y="381.1" width="5.6" height="8.7" fill="#f33d3e" stroke="none"/>
<line x1="742" y1="380.7" x2="742" y2="387.2" stroke="#0f8cf3" stroke-width="1.2" stroke-linecap="butt"/>
<rect x="739.2" y="380.7" width="5.6" height="3.2" fill="#0f8cf3" stroke="none"/>
<line x1="749.2" y1="380" x2="749.2" y2="385" stroke="#0f8cf3" stroke-width="1.2" stroke-linecap="butt"/>
<rect x="746.4" y="381.6" width="5.6" height="1.6" fill="#0f8cf3" stroke="none"/>
<line x1="756.2" y1="387.6" x2="756.2" y2="395.3" stroke="#0f8cf3" stroke-width="1.2" stroke-linecap="butt"/>
<rect x="753.4" y="392.7" width="5.6" height="2.6" fill="#0f8cf3" stroke="none"/>
<line x1="762.7" y1="386.4" x2="762.7" y2="390.5" stroke="#f33d3e" stroke-width="1.2" stroke-linecap="butt"/>
<rect x="759.9" y="386.4" width="5.6" height="1.6" fill="#f33d3e" stroke="none"/>
<line x1="769.7" y1="384.5" x2="769.7" y2="390" stroke="#0f8cf3" stroke-width="1.2" stroke-linecap="butt"/>
<rect x="766.9" y="385.7" width="5.6" height="3.2" fill="#0f8cf3" stroke="none"/>
<line x1="776.4" y1="380" x2="776.4" y2="386.5" stroke="#f33d3e" stroke-width="1.2" stroke-linecap="butt"/>
<rect x="773.6" y="382.5" width="5.6" height="1.6" fill="#f33d3e" stroke="none"/>
<line x1="783" y1="364" x2="783" y2="371.5" stroke="#f33d3e" stroke-width="1.2" stroke-linecap="butt"/>
<rect x="780.2" y="365" width="5.6" height="5.5" fill="#f33d3e" stroke="none"/>
<line x1="789.8" y1="361.6" x2="789.8" y2="367.2" stroke="#0f8cf3" stroke-width="1.2" stroke-linecap="butt"/>
<rect x="787" y="361.6" width="5.6" height="1.6" fill="#0f8cf3" stroke="none"/>
<line x1="797" y1="348.5" x2="797" y2="362.5" stroke="#f33d3e" stroke-width="1.2" stroke-linecap="butt"/>
<rect x="794.2" y="350.9" width="5.6" height="10.9" fill="#f33d3e" stroke="none"/>
<line x1="804" y1="347.5" x2="804" y2="358.5" stroke="#0f8cf3" stroke-width="1.2" stroke-linecap="butt"/>
<rect x="801.2" y="348.7" width="5.6" height="8.7" fill="#0f8cf3" stroke="none"/>
<line x1="810.5" y1="366.1" x2="810.5" y2="378.5" stroke="#f33d3e" stroke-width="1.2" stroke-linecap="butt"/>
<rect x="807.7" y="369.4" width="5.6" height="6.5" fill="#f33d3e" stroke="none"/>
<line x1="817.5" y1="372" x2="817.5" y2="382.5" stroke="#0f8cf3" stroke-width="1.2" stroke-linecap="butt"/>
<rect x="814.7" y="373.1" width="5.6" height="4.6" fill="#0f8cf3" stroke="none"/>
<line x1="824.3" y1="371.9" x2="824.3" y2="376.4" stroke="#0f8cf3" stroke-width="1.2" stroke-linecap="butt"/>
<rect x="821.5" y="371.9" width="5.6" height="1.6" fill="#0f8cf3" stroke="none"/>
<line x1="831.2" y1="362.8" x2="831.2" y2="374.2" stroke="#0f8cf3" stroke-width="1.2" stroke-linecap="butt"/>
<rect x="828.4" y="366.5" width="5.6" height="5.1" fill="#0f8cf3" stroke="none"/>
<line x1="837.8" y1="366.1" x2="837.8" y2="375.9" stroke="#0f8cf3" stroke-width="1.2" stroke-linecap="butt"/>
<rect x="835" y="369.7" width="5.6" height="1.6" fill="#0f8cf3" stroke="none"/>
<line x1="844.3" y1="368" x2="844.3" y2="374" stroke="#f33d3e" stroke-width="1.2" stroke-linecap="butt"/>
<rect x="841.5" y="370.3" width="5.6" height="1.6" fill="#f33d3e" stroke="none"/>
<line x1="851.3" y1="361.5" x2="851.3" y2="372.8" stroke="#f33d3e" stroke-width="1.2" stroke-linecap="butt"/>
<rect x="848.5" y="362.4" width="5.6" height="9.6" fill="#f33d3e" stroke="none"/>
<line x1="858.5" y1="357.4" x2="858.5" y2="366.1" stroke="#0f8cf3" stroke-width="1.2" stroke-linecap="butt"/>
<rect x="855.7" y="361" width="5.6" height="1.6" fill="#0f8cf3" stroke="none"/>
<line x1="865" y1="355" x2="865" y2="361" stroke="#f33d3e" stroke-width="1.2" stroke-linecap="butt"/>
<rect x="862.2" y="355.9" width="5.6" height="4.1" fill="#f33d3e" stroke="none"/>
<line x1="872" y1="346.6" x2="872" y2="352.8" stroke="#f33d3e" stroke-width="1.2" stroke-linecap="butt"/>
<rect x="869.2" y="347.6" width="5.6" height="4.3" fill="#f33d3e" stroke="none"/>
<line x1="878.1" y1="342.4" x2="878.1" y2="346.5" stroke="#0f8cf3" stroke-width="1.2" stroke-linecap="butt"/>
<rect x="875.3" y="342.4" width="5.6" height="1.9" fill="#0f8cf3" stroke="none"/>
<line x1="885.3" y1="345.4" x2="885.3" y2="355.2" stroke="#0f8cf3" stroke-width="1.2" stroke-linecap="butt"/>
<rect x="882.5" y="345.4" width="5.6" height="3.9" fill="#0f8cf3" stroke="none"/>
<line x1="892.3" y1="343.7" x2="892.3" y2="350.9" stroke="#0f8cf3" stroke-width="1.2" stroke-linecap="butt"/>
<rect x="889.5" y="347.2" width="5.6" height="2.1" fill="#0f8cf3" stroke="none"/>
<line x1="898.8" y1="348.5" x2="898.8" y2="352" stroke="#f33d3e" stroke-width="1.2" stroke-linecap="butt"/>
<rect x="896" y="348.5" width="5.6" height="1.6" fill="#f33d3e" stroke="none"/>
<line x1="905.8" y1="340.6" x2="905.8" y2="350.4" stroke="#0f8cf3" stroke-width="1.2" stroke-linecap="butt"/>
<rect x="903" y="345.8" width="5.6" height="4.6" fill="#0f8cf3" stroke="none"/>
<line x1="912.5" y1="349" x2="912.5" y2="354" stroke="#0f8cf3" stroke-width="1.2" stroke-linecap="butt"/>
<rect x="909.7" y="349.8" width="5.6" height="3.2" fill="#0f8cf3" stroke="none"/>
<line x1="919.5" y1="348" x2="919.5" y2="352.2" stroke="#f33d3e" stroke-width="1.2" stroke-linecap="butt"/>
<rect x="916.7" y="348.9" width="5.6" height="2.6" fill="#f33d3e" stroke="none"/>
<line x1="926.1" y1="344.3" x2="926.1" y2="353.7" stroke="#f33d3e" stroke-width="1.2" stroke-linecap="butt"/>
<rect x="923.3" y="346.5" width="5.6" height="5.4" fill="#f33d3e" stroke="none"/>
<line x1="933.3" y1="336.3" x2="933.3" y2="346.5" stroke="#f33d3e" stroke-width="1.2" stroke-linecap="butt"/>
<rect x="930.5" y="337.3" width="5.6" height="8.5" fill="#f33d3e" stroke="none"/>
<line x1="940.2" y1="324.7" x2="940.2" y2="340" stroke="#0f8cf3" stroke-width="1.2" stroke-linecap="butt"/>
<rect x="937.4" y="326.4" width="5.6" height="7.7" fill="#0f8cf3" stroke="none"/>
<line x1="947.2" y1="328.6" x2="947.2" y2="335.6" stroke="#0f8cf3" stroke-width="1.2" stroke-linecap="butt"/>
<rect x="944.4" y="329.7" width="5.6" height="3.3" fill="#0f8cf3" stroke="none"/>
<line x1="953.8" y1="328" x2="953.8" y2="334.5" stroke="#0f8cf3" stroke-width="1.2" stroke-linecap="butt"/>
<rect x="951" y="329.7" width="5.6" height="3.3" fill="#0f8cf3" stroke="none"/>
<line x1="960.3" y1="325" x2="960.3" y2="330" stroke="#f33d3e" stroke-width="1.2" stroke-linecap="butt"/>
<rect x="957.5" y="326.7" width="5.6" height="1.6" fill="#f33d3e" stroke="none"/>
<line x1="967" y1="321.4" x2="967" y2="331.2" stroke="#f33d3e" stroke-width="1.2" stroke-linecap="butt"/>
<rect x="964.2" y="326.1" width="5.6" height="1.6" fill="#f33d3e" stroke="none"/>
<line x1="974" y1="323.6" x2="974" y2="329.7" stroke="#f33d3e" stroke-width="1.2" stroke-linecap="butt"/>
<rect x="971.2" y="326.4" width="5.6" height="2.6" fill="#f33d3e" stroke="none"/>
<line x1="980.6" y1="309" x2="980.6" y2="314.4" stroke="#f33d3e" stroke-width="1.2" stroke-linecap="butt"/>
<rect x="977.8" y="310.1" width="5.6" height="2.2" fill="#f33d3e" stroke="none"/>
<line x1="987.8" y1="299" x2="987.8" y2="310.5" stroke="#f33d3e" stroke-width="1.2" stroke-linecap="butt"/>
<rect x="985" y="300" width="5.6" height="5.7" fill="#f33d3e" stroke="none"/>
<line x1="994.3" y1="302.1" x2="994.3" y2="308.3" stroke="#0f8cf3" stroke-width="1.2" stroke-linecap="butt"/>
<rect x="991.5" y="302.1" width="5.6" height="1.6" fill="#0f8cf3" stroke="none"/>
<line x1="1001.3" y1="290.9" x2="1001.3" y2="297.4" stroke="#f33d3e" stroke-width="1.2" stroke-linecap="butt"/>
<rect x="998.5" y="293.4" width="5.6" height="1.6" fill="#f33d3e" stroke="none"/>
<line x1="1008.3" y1="317.5" x2="1008.3" y2="332.3" stroke="#0f8cf3" stroke-width="1.2" stroke-linecap="butt"/>
<rect x="1005.5" y="318.8" width="5.6" height="8.7" fill="#0f8cf3" stroke="none"/>
<line x1="1014.8" y1="317.8" x2="1014.8" y2="328" stroke="#0f8cf3" stroke-width="1.2" stroke-linecap="butt"/>
<rect x="1012" y="318.8" width="5.6" height="8.1" fill="#0f8cf3" stroke="none"/>
<line x1="1022" y1="324.7" x2="1022" y2="332.3" stroke="#0f8cf3" stroke-width="1.2" stroke-linecap="butt"/>
<rect x="1019.2" y="328.4" width="5.6" height="3.5" fill="#0f8cf3" stroke="none"/>
<line x1="1028.5" y1="321.5" x2="1028.5" y2="331.2" stroke="#0f8cf3" stroke-width="1.2" stroke-linecap="butt"/>
<rect x="1025.7" y="322.5" width="5.6" height="6.5" fill="#0f8cf3" stroke="none"/>
<line x1="1035.2" y1="308" x2="1035.2" y2="313.6" stroke="#f33d3e" stroke-width="1.2" stroke-linecap="butt"/>
<rect x="1032.4" y="309.3" width="5.6" height="3.7" fill="#f33d3e" stroke="none"/>
<line x1="1041.8" y1="300" x2="1041.8" y2="305.3" stroke="#f33d3e" stroke-width="1.2" stroke-linecap="butt"/>
<rect x="1039" y="301" width="5.6" height="3.7" fill="#f33d3e" stroke="none"/>
<line x1="1048.7" y1="305.6" x2="1048.7" y2="310.8" stroke="#f33d3e" stroke-width="1.2" stroke-linecap="butt"/>
<rect x="1045.9" y="307.2" width="5.6" height="1.6" fill="#f33d3e" stroke="none"/>
<line x1="1055.7" y1="303.5" x2="1055.7" y2="312.8" stroke="#f33d3e" stroke-width="1.2" stroke-linecap="butt"/>
<rect x="1052.9" y="304.3" width="5.6" height="7.8" fill="#f33d3e" stroke="none"/>
<line x1="1062.2" y1="297.5" x2="1062.2" y2="302.5" stroke="#f33d3e" stroke-width="1.2" stroke-linecap="butt"/>
<rect x="1059.4" y="298.4" width="5.6" height="2.6" fill="#f33d3e" stroke="none"/>
<line x1="1069" y1="277.5" x2="1069" y2="285.2" stroke="#f33d3e" stroke-width="1.2" stroke-linecap="butt"/>
<rect x="1066.2" y="283.6" width="5.6" height="1.6" fill="#f33d3e" stroke="none"/>
<line x1="1076" y1="276.9" x2="1076" y2="287.3" stroke="#0f8cf3" stroke-width="1.2" stroke-linecap="butt"/>
<rect x="1073.2" y="279.3" width="5.6" height="5.6" fill="#0f8cf3" stroke="none"/>
<line x1="1083.4" y1="276.6" x2="1083.4" y2="282.5" stroke="#0f8cf3" stroke-width="1.2" stroke-linecap="butt"/>
<rect x="1080.6" y="276.6" width="5.6" height="1.6" fill="#0f8cf3" stroke="none"/>
<line x1="1089.9" y1="278.8" x2="1089.9" y2="283.5" stroke="#f33d3e" stroke-width="1.2" stroke-linecap="butt"/>
<rect x="1087.1" y="280.4" width="5.6" height="1.6" fill="#f33d3e" stroke="none"/>
<line x1="1096.7" y1="279.3" x2="1096.7" y2="291.4" stroke="#0f8cf3" stroke-width="1.2" stroke-linecap="butt"/>
<rect x="1093.9" y="282.7" width="5.6" height="3.1" fill="#0f8cf3" stroke="none"/>
<line x1="1103.2" y1="254.8" x2="1103.2" y2="261.7" stroke="#f33d3e" stroke-width="1.2" stroke-linecap="butt"/>
<rect x="1100.4" y="254.8" width="5.6" height="1.6" fill="#f33d3e" stroke="none"/>
<line x1="1110.2" y1="236.4" x2="1110.2" y2="256.2" stroke="#0f8cf3" stroke-width="1.2" stroke-linecap="butt"/>
<rect x="1107.4" y="238.7" width="5.6" height="5.9" fill="#0f8cf3" stroke="none"/>
<rect x="1114.5" y="224.8" width="5.6" height="19.4" fill="#f33d3e" stroke="none"/>
<rect x="0" y="226.6" width="8" height="8.7" fill="rgba(49,152,229,0.27)" stroke="none"/>
<rect x="0" y="237.5" width="23.3" height="9.2" fill="rgba(248,198,48,0.27)" stroke="none"/>
<rect x="0" y="248.9" width="17.7" height="9.7" fill="rgba(49,152,229,0.27)" stroke="none"/>
<rect x="17.7" y="248.9" width="15" height="9.7" fill="rgba(248,198,48,0.27)" stroke="none"/>
<rect x="0" y="260.3" width="3.6" height="9.9" fill="rgba(49,152,229,0.27)" stroke="none"/>
<rect x="0" y="272.1" width="33.4" height="10.5" fill="rgba(49,152,229,0.27)" stroke="none"/>
<rect x="33.4" y="272.1" width="37.1" height="10.5" fill="rgba(248,198,48,0.27)" stroke="none"/>
<rect x="0" y="284.3" width="10.9" height="10.2" fill="rgba(49,152,229,0.27)" stroke="none"/>
<rect x="10.9" y="284.3" width="18.6" height="10.2" fill="rgba(248,198,48,0.27)" stroke="none"/>
<rect x="0" y="296.1" width="48.7" height="10.5" fill="rgba(49,152,229,0.27)" stroke="none"/>
<rect x="48.7" y="296.1" width="5.1" height="10.5" fill="rgba(248,198,48,0.27)" stroke="none"/>
<rect x="0" y="308.3" width="43.6" height="10.2" fill="rgba(49,152,229,0.27)" stroke="none"/>
<rect x="43.6" y="308.3" width="4.7" height="10.2" fill="rgba(248,198,48,0.27)" stroke="none"/>
<rect x="0" y="320.2" width="60" height="10.4" fill="rgba(49,152,229,0.27)" stroke="none"/>
<rect x="60" y="320.2" width="67.2" height="10.4" fill="rgba(248,198,48,0.27)" stroke="none"/>
<rect x="0" y="332.2" width="48" height="10.4" fill="rgba(49,152,229,0.27)" stroke="none"/>
<rect x="48" y="332.2" width="63.6" height="10.4" fill="rgba(248,198,48,0.27)" stroke="none"/>
<rect x="0" y="344" width="62.2" height="10.2" fill="rgba(49,152,229,0.27)" stroke="none"/>
<rect x="62.2" y="344" width="94.5" height="10.2" fill="rgba(248,198,48,0.27)" stroke="none"/>
<rect x="0" y="355.7" width="64.9" height="10.1" fill="rgba(49,152,229,0.78)" stroke="none"/>
<rect x="64.9" y="355.7" width="86" height="10.1" fill="rgba(248,198,48,0.80)" stroke="none"/>
<rect x="0" y="367.6" width="94.6" height="10.1" fill="rgba(49,152,229,0.78)" stroke="none"/>
<rect x="94.6" y="367.6" width="52.9" height="10.1" fill="rgba(248,198,48,0.80)" stroke="none"/>
<rect x="0" y="379.6" width="74.4" height="10.2" fill="rgba(49,152,229,0.78)" stroke="none"/>
<rect x="74.4" y="379.6" width="104.5" height="10.2" fill="rgba(248,198,48,0.80)" stroke="none"/>
<rect x="0" y="391.6" width="30.2" height="10" fill="rgba(49,152,229,0.78)" stroke="none"/>
<rect x="30.2" y="391.6" width="19.9" height="10" fill="rgba(248,198,48,0.80)" stroke="none"/>
<rect x="0" y="403.4" width="39.7" height="10.2" fill="rgba(49,152,229,0.78)" stroke="none"/>
<rect x="39.7" y="403.4" width="30.2" height="10.2" fill="rgba(248,198,48,0.80)" stroke="none"/>
<rect x="0" y="415.4" width="18" height="10.2" fill="rgba(49,152,229,0.78)" stroke="none"/>
<rect x="18" y="415.4" width="23.2" height="10.2" fill="rgba(248,198,48,0.80)" stroke="none"/>
<rect x="0" y="427.4" width="28" height="10.2" fill="rgba(49,152,229,0.78)" stroke="none"/>
<rect x="28" y="427.4" width="27.8" height="10.2" fill="rgba(248,198,48,0.80)" stroke="none"/>
<rect x="0" y="439.4" width="47.5" height="10.2" fill="rgba(49,152,229,0.78)" stroke="none"/>
<rect x="47.5" y="439.4" width="60.3" height="10.2" fill="rgba(248,198,48,0.80)" stroke="none"/>
<rect x="0" y="451.3" width="34" height="9.9" fill="rgba(49,152,229,0.78)" stroke="none"/>
<rect x="34" y="451.3" width="16.9" height="9.9" fill="rgba(248,198,48,0.80)" stroke="none"/>
<rect x="0" y="463" width="20.5" height="10" fill="rgba(49,152,229,0.78)" stroke="none"/>
<rect x="0" y="474.4" width="53.3" height="10.1" fill="rgba(49,152,229,0.78)" stroke="none"/>
<rect x="53.3" y="474.4" width="33.6" height="10.1" fill="rgba(248,198,48,0.80)" stroke="none"/>
<rect x="0" y="486.1" width="248.3" height="10.7" fill="rgba(49,152,229,0.78)" stroke="none"/>
<rect x="248.3" y="486.1" width="126.2" height="10.7" fill="rgba(248,198,48,0.80)" stroke="none"/>
<rect x="0" y="498.4" width="77.5" height="10.6" fill="rgba(49,152,229,0.78)" stroke="none"/>
<rect x="77.5" y="498.4" width="76" height="10.6" fill="rgba(248,198,48,0.80)" stroke="none"/>
<line x1="0" y1="688.3" x2="1259.6" y2="688.3" stroke="#b4b8bd" stroke-width="1.4" stroke-dasharray="6 7" stroke-linecap="butt"/>
<polyline points="0,681.9 6.7,672.6 13.4,680.3 20.1,666.2 26.7,674.6 33.4,679.6 40.8,683.6 47.8,686.3 54.5,692.6 61.2,686.3 67.9,682.6 74.2,680.3 80.9,671.9 87.6,688 94.6,684.6 102,689.3 108.7,687.6 115.3,680.9 122.4,689 129.1,688.3 135.4,691 142.1,703 148.8,703.7 157.1,694.3 163.8,692 170.5,692.6 177.2,692.3 183.2,697.7 190.6,689.6 197.3,689.3 203.9,685.3 211.3,679.6 219,686.3 225.7,688 231.7,690.6 238.4,687 245.1,680.9 251.4,672.9 259.1,679.6 265.1,682.9 272.5,690.3 279.2,691.6 285.9,689 292.9,698 299.2,694.6 305.9,687.6 312.6,691.3 319.3,695.3 327,691.3 333.7,685.3 340.4,680.9 347.7,684.3 353.7,686.3 360.4,677.9 367.1,683.6 373.8,690.3 381.1,693.6 388.5,696.3 394.5,691.3 401.2,696.3 407.9,692 414.6,687 421.3,683.6 427.9,683.6 435.6,677.6 443,674.9 449.4,664.2 456,658.5 462.7,664.2 470.1,657.5 476.8,656.9 483.5,657.2 490.1,658.5 496.8,659.5 504.2,661.5 510.9,661.2 517.6,670.2 524.3,676.9 530.9,676.9 537.6,677.9 545.3,674.6 552.7,672.6 558.7,677.9 566.4,675.3 573.1,673.3 579.8,670.6 586.4,667.6 592.1,663.6 599.8,663.6 606.5,664.2 613.2,663.2 620.5,662.6 626.6,650.8 633.9,661.2 639.9,659.2 646.6,655.2 653.3,655.2 660,647.5 668,634.1 674.7,646.8 681.4,638.5 688.1,674.3 694.8,681.6 701.4,671.2 708.1,677.6 714.8,703 722.5,709.7 729.2,720.4 735.9,722.7 742.6,716.4 749.3,733.8 755.9,708 762.6,703 769.3,705.3 776,700.3 783.7,673.6 790.4,668.6 797.1,659.2 803.8,671.9 810.4,678.6 817.1,684.6 823.8,672.9 830.5,677.6 837.9,677.3 845.2,680.9 851.9,686.3 858.6,689 865.3,692.3 872,680.9 878,670.9 884.7,668.4 893.3,672.2 899.8,672.9 912.4,674.7 919.7,679.4 926.1,677.2 933,675.4 939.5,678.3 946.7,680.1 953.9,677.2 961.1,672.2 967.6,673.6 974.4,672.2 980.9,658.5 987.1,654.2 994.3,658.5 1000.8,657.8 1008.7,684.4 1015.2,684.4 1021.7,688.1 1028.5,690.2 1035.7,675.4 1041.9,670 1048.3,687.3 1055.6,691.7 1062,686.6 1069.3,681.9 1076.5,658.5 1083,653.1 1089.8,653.1 1096.3,658.5 1102.8,651.3 1110,648.4 1117.9,629.7" stroke="#2d8fd8" stroke-width="1.7" />
<rect x="1.4" y="875.8" width="5.2" height="1.3" fill="#8fcbf6" stroke="none"/>
<rect x="8.2" y="875.8" width="5.2" height="1.3" fill="#1789ea" stroke="none"/>
<rect x="15.1" y="875.8" width="5.2" height="1.3" fill="#8fcbf6" stroke="none"/>
<rect x="21.9" y="874.5" width="5.2" height="1.3" fill="#e5484d" stroke="none"/>
<rect x="28.7" y="874.5" width="5.2" height="1.3" fill="#e5484d" stroke="none"/>
<rect x="35.6" y="874.5" width="5.2" height="1.3" fill="#f7b7ab" stroke="none"/>
<rect x="42.4" y="874.5" width="5.2" height="1.3" fill="#f7b7ab" stroke="none"/>
<rect x="49.2" y="875.8" width="5.2" height="1.3" fill="#8fcbf6" stroke="none"/>
<rect x="56" y="875.8" width="5.2" height="1.3" fill="#8fcbf6" stroke="none"/>
<rect x="62.9" y="875.8" width="5.2" height="1.3" fill="#1789ea" stroke="none"/>
<rect x="69.7" y="874.5" width="5.2" height="1.3" fill="#e5484d" stroke="none"/>
<rect x="76.5" y="873.8" width="5.2" height="2" fill="#e5484d" stroke="none"/>
<rect x="83.4" y="874.5" width="5.2" height="1.3" fill="#f7b7ab" stroke="none"/>
<rect x="90.2" y="874.5" width="5.2" height="1.3" fill="#f7b7ab" stroke="none"/>
<rect x="97" y="874.5" width="5.2" height="1.3" fill="#f7b7ab" stroke="none"/>
<rect x="103.9" y="875.8" width="5.2" height="1.3" fill="#8fcbf6" stroke="none"/>
<rect x="110.7" y="875.8" width="5.2" height="1.3" fill="#8fcbf6" stroke="none"/>
<rect x="117.5" y="875.8" width="5.2" height="2.7" fill="#8fcbf6" stroke="none"/>
<rect x="124.3" y="875.8" width="5.2" height="3.3" fill="#8fcbf6" stroke="none"/>
<rect x="131.2" y="875.8" width="5.2" height="4" fill="#8fcbf6" stroke="none"/>
<rect x="138" y="875.8" width="5.2" height="6" fill="#8fcbf6" stroke="none"/>
<rect x="144.8" y="875.8" width="5.2" height="5.3" fill="#1789ea" stroke="none"/>
<rect x="151.7" y="875.8" width="5.2" height="4.7" fill="#1789ea" stroke="none"/>
<rect x="158.5" y="875.8" width="5.2" height="3" fill="#1789ea" stroke="none"/>
<rect x="165.3" y="875.8" width="5.2" height="2.7" fill="#1789ea" stroke="none"/>
<rect x="172.2" y="875.8" width="5.2" height="2.3" fill="#1789ea" stroke="none"/>
<rect x="179" y="875.8" width="5.2" height="2.7" fill="#8fcbf6" stroke="none"/>
<rect x="185.8" y="875.8" width="5.2" height="2.7" fill="#1789ea" stroke="none"/>
<rect x="192.7" y="875.8" width="5.2" height="2.3" fill="#1789ea" stroke="none"/>
<rect x="199.5" y="875.8" width="5.2" height="1.3" fill="#1789ea" stroke="none"/>
<rect x="206.3" y="875.8" width="5.2" height="1.3" fill="#1789ea" stroke="none"/>
<rect x="213.1" y="875.8" width="5.2" height="1.3" fill="#1789ea" stroke="none"/>
<rect x="220" y="875.8" width="5.2" height="1.3" fill="#1789ea" stroke="none"/>
<rect x="226.8" y="875.8" width="5.2" height="1.3" fill="#1789ea" stroke="none"/>
<rect x="233.6" y="874.5" width="5.2" height="1.3" fill="#e5484d" stroke="none"/>
<rect x="240.5" y="874.1" width="5.2" height="1.7" fill="#e5484d" stroke="none"/>
<rect x="247.3" y="873.1" width="5.2" height="2.7" fill="#e5484d" stroke="none"/>
<rect x="254.1" y="873.8" width="5.2" height="2" fill="#f7b7ab" stroke="none"/>
<rect x="260.9" y="873.8" width="5.2" height="2" fill="#f7b7ab" stroke="none"/>
<rect x="267.8" y="874.5" width="5.2" height="1.3" fill="#f7b7ab" stroke="none"/>
<rect x="274.6" y="875.8" width="5.2" height="1.3" fill="#8fcbf6" stroke="none"/>
<rect x="281.4" y="875.8" width="5.2" height="2.3" fill="#8fcbf6" stroke="none"/>
<rect x="288.3" y="875.8" width="5.2" height="4" fill="#8fcbf6" stroke="none"/>
<rect x="295.1" y="875.8" width="5.2" height="4.3" fill="#8fcbf6" stroke="none"/>
<rect x="301.9" y="875.8" width="5.2" height="2.7" fill="#1789ea" stroke="none"/>
<rect x="308.8" y="875.8" width="5.2" height="1.3" fill="#1789ea" stroke="none"/>
<rect x="315.6" y="874.5" width="5.2" height="1.3" fill="#e5484d" stroke="none"/>
<rect x="322.4" y="874.5" width="5.2" height="1.3" fill="#e5484d" stroke="none"/>
<rect x="329.2" y="874.1" width="5.2" height="1.7" fill="#e5484d" stroke="none"/>
<rect x="336.1" y="874.1" width="5.2" height="1.7" fill="#e5484d" stroke="none"/>
<rect x="342.9" y="874.5" width="5.2" height="1.3" fill="#f7b7ab" stroke="none"/>
<rect x="349.7" y="874.5" width="5.2" height="1.3" fill="#f7b7ab" stroke="none"/>
<rect x="356.6" y="874.5" width="5.2" height="1.3" fill="#f7b7ab" stroke="none"/>
<rect x="363.4" y="875.8" width="5.2" height="1.3" fill="#8fcbf6" stroke="none"/>
<rect x="370.2" y="875.8" width="5.2" height="1.3" fill="#8fcbf6" stroke="none"/>
<rect x="377.1" y="875.8" width="5.2" height="1.3" fill="#8fcbf6" stroke="none"/>
<rect x="383.9" y="875.8" width="5.2" height="1.7" fill="#8fcbf6" stroke="none"/>
<rect x="390.7" y="875.8" width="5.2" height="1.3" fill="#1789ea" stroke="none"/>
<rect x="397.5" y="875.8" width="5.2" height="1.3" fill="#1789ea" stroke="none"/>
<rect x="404.4" y="875.8" width="5.2" height="1.3" fill="#1789ea" stroke="none"/>
<rect x="411.2" y="874.5" width="5.2" height="1.3" fill="#e5484d" stroke="none"/>
<rect x="418" y="874.5" width="5.2" height="1.3" fill="#e5484d" stroke="none"/>
<rect x="424.9" y="874.1" width="5.2" height="1.7" fill="#e5484d" stroke="none"/>
<rect x="431.7" y="873.1" width="5.2" height="2.7" fill="#e5484d" stroke="none"/>
<rect x="438.5" y="871.8" width="5.2" height="4" fill="#e5484d" stroke="none"/>
<rect x="445.4" y="867.4" width="5.2" height="8.4" fill="#e5484d" stroke="none"/>
<rect x="452.2" y="866.4" width="5.2" height="9.4" fill="#e5484d" stroke="none"/>
<rect x="459" y="865.4" width="5.2" height="10.4" fill="#e5484d" stroke="none"/>
<rect x="465.8" y="864.1" width="5.2" height="11.7" fill="#e5484d" stroke="none"/>
<rect x="472.7" y="863.4" width="5.2" height="12.4" fill="#e5484d" stroke="none"/>
<rect x="479.5" y="864.1" width="5.2" height="11.7" fill="#f7b7ab" stroke="none"/>
<rect x="486.3" y="864.8" width="5.2" height="11" fill="#f7b7ab" stroke="none"/>
<rect x="493.2" y="866.1" width="5.2" height="9.7" fill="#f7b7ab" stroke="none"/>
<rect x="500" y="867.1" width="5.2" height="8.7" fill="#f7b7ab" stroke="none"/>
<rect x="506.8" y="867.8" width="5.2" height="8" fill="#f7b7ab" stroke="none"/>
<rect x="513.7" y="868.4" width="5.2" height="7.4" fill="#f7b7ab" stroke="none"/>
<rect x="520.5" y="870.5" width="5.2" height="5.3" fill="#f7b7ab" stroke="none"/>
<rect x="527.3" y="872.1" width="5.2" height="3.7" fill="#f7b7ab" stroke="none"/>
<rect x="534.1" y="872.8" width="5.2" height="3" fill="#f7b7ab" stroke="none"/>
<rect x="541" y="872.1" width="5.2" height="3.7" fill="#e5484d" stroke="none"/>
<rect x="547.8" y="871.5" width="5.2" height="4.3" fill="#e5484d" stroke="none"/>
<rect x="554.6" y="872.8" width="5.2" height="3" fill="#f7b7ab" stroke="none"/>
<rect x="561.5" y="873.8" width="5.2" height="2" fill="#f7b7ab" stroke="none"/>
<rect x="568.3" y="873.8" width="5.2" height="2" fill="#f7b7ab" stroke="none"/>
<rect x="575.1" y="872.5" width="5.2" height="3.3" fill="#e5484d" stroke="none"/>
<rect x="582" y="871.8" width="5.2" height="4" fill="#e5484d" stroke="none"/>
<rect x="588.8" y="870.8" width="5.2" height="5" fill="#e5484d" stroke="none"/>
<rect x="595.6" y="872.1" width="5.2" height="3.7" fill="#f7b7ab" stroke="none"/>
<rect x="602.4" y="872.1" width="5.2" height="3.7" fill="#f7b7ab" stroke="none"/>
<rect x="609.3" y="870.1" width="5.2" height="5.7" fill="#e5484d" stroke="none"/>
<rect x="616.1" y="869.8" width="5.2" height="6" fill="#e5484d" stroke="none"/>
<rect x="622.9" y="867.8" width="5.2" height="8" fill="#e5484d" stroke="none"/>
<rect x="629.8" y="870.1" width="5.2" height="5.7" fill="#f7b7ab" stroke="none"/>
<rect x="636.6" y="870.1" width="5.2" height="5.7" fill="#f7b7ab" stroke="none"/>
<rect x="643.4" y="869.1" width="5.2" height="6.7" fill="#e5484d" stroke="none"/>
<rect x="650.3" y="867.8" width="5.2" height="8" fill="#e5484d" stroke="none"/>
<rect x="657.1" y="865.8" width="5.2" height="10" fill="#e5484d" stroke="none"/>
<rect x="663.9" y="863.4" width="5.2" height="12.4" fill="#e5484d" stroke="none"/>
<rect x="670.7" y="864.4" width="5.2" height="11.4" fill="#f7b7ab" stroke="none"/>
<rect x="677.6" y="862.8" width="5.2" height="13" fill="#e5484d" stroke="none"/>
<rect x="684.4" y="869.8" width="5.2" height="6" fill="#f7b7ab" stroke="none"/>
<rect x="691.2" y="875.8" width="5.2" height="1.3" fill="#8fcbf6" stroke="none"/>
<rect x="698.1" y="875.8" width="5.2" height="4" fill="#8fcbf6" stroke="none"/>
<rect x="704.9" y="875.8" width="5.2" height="6.7" fill="#8fcbf6" stroke="none"/>
<rect x="711.7" y="875.8" width="5.2" height="11.4" fill="#8fcbf6" stroke="none"/>
<rect x="718.6" y="875.8" width="5.2" height="15" fill="#8fcbf6" stroke="none"/>
<rect x="725.4" y="875.8" width="5.2" height="18.1" fill="#8fcbf6" stroke="none"/>
<rect x="732.2" y="875.8" width="5.2" height="17.1" fill="#1789ea" stroke="none"/>
<rect x="739" y="875.8" width="5.2" height="16.4" fill="#1789ea" stroke="none"/>
<rect x="745.9" y="875.8" width="5.2" height="16" fill="#1789ea" stroke="none"/>
<rect x="752.7" y="875.8" width="5.2" height="16.4" fill="#8fcbf6" stroke="none"/>
<rect x="759.5" y="875.8" width="5.2" height="14.7" fill="#1789ea" stroke="none"/>
<rect x="766.4" y="875.8" width="5.2" height="13" fill="#1789ea" stroke="none"/>
<rect x="773.2" y="875.8" width="5.2" height="10.7" fill="#1789ea" stroke="none"/>
<rect x="780" y="875.8" width="5.2" height="6.7" fill="#1789ea" stroke="none"/>
<rect x="786.9" y="875.8" width="5.2" height="2.7" fill="#1789ea" stroke="none"/>
<rect x="793.7" y="874.5" width="5.2" height="1.3" fill="#e5484d" stroke="none"/>
<rect x="800.5" y="873.5" width="5.2" height="2.3" fill="#e5484d" stroke="none"/>
<rect x="807.3" y="874.5" width="5.2" height="1.3" fill="#f7b7ab" stroke="none"/>
<rect x="814.2" y="875.8" width="5.2" height="1.7" fill="#8fcbf6" stroke="none"/>
<rect x="821" y="875.8" width="5.2" height="1.7" fill="#8fcbf6" stroke="none"/>
<rect x="827.8" y="875.8" width="5.2" height="2.3" fill="#8fcbf6" stroke="none"/>
<rect x="834.7" y="875.8" width="5.2" height="2.7" fill="#8fcbf6" stroke="none"/>
<rect x="841.5" y="875.8" width="5.2" height="2.3" fill="#8fcbf6" stroke="none"/>
<rect x="848.3" y="875.8" width="5.2" height="1.7" fill="#1789ea" stroke="none"/>
<rect x="855.2" y="875.8" width="5.2" height="1.3" fill="#1789ea" stroke="none"/>
<rect x="862" y="874.5" width="5.2" height="1.3" fill="#e5484d" stroke="none"/>
<rect x="868.8" y="872.5" width="5.2" height="3.3" fill="#e5484d" stroke="none"/>
<rect x="875.6" y="870.8" width="5.2" height="5" fill="#e5484d" stroke="none"/>
<rect x="882.5" y="871.8" width="5.2" height="4" fill="#f7b7ab" stroke="none"/>
<rect x="889.3" y="872.2" width="5.2" height="3.6" fill="#f7b7ab" stroke="none"/>
<rect x="896.1" y="872.6" width="5.2" height="3.2" fill="#f7b7ab" stroke="none"/>
<rect x="903" y="873.3" width="5.2" height="2.5" fill="#f7b7ab" stroke="none"/>
<rect x="909.8" y="874.4" width="5.2" height="1.4" fill="#f7b7ab" stroke="none"/>
<rect x="916.6" y="874.5" width="5.2" height="1.3" fill="#f7b7ab" stroke="none"/>
<rect x="923.5" y="874.5" width="5.2" height="1.3" fill="#e5484d" stroke="none"/>
<rect x="930.3" y="873.6" width="5.2" height="2.2" fill="#e5484d" stroke="none"/>
<rect x="937.1" y="872.9" width="5.2" height="2.9" fill="#e5484d" stroke="none"/>
<rect x="943.9" y="872.2" width="5.2" height="3.6" fill="#e5484d" stroke="none"/>
<rect x="950.8" y="872.2" width="5.2" height="3.6" fill="#f7b7ab" stroke="none"/>
<rect x="957.6" y="871.5" width="5.2" height="4.3" fill="#e5484d" stroke="none"/>
<rect x="964.4" y="872.2" width="5.2" height="3.6" fill="#f7b7ab" stroke="none"/>
<rect x="971.3" y="871.8" width="5.2" height="4" fill="#f7b7ab" stroke="none"/>
<rect x="978.1" y="870" width="5.2" height="5.8" fill="#e5484d" stroke="none"/>
<rect x="984.9" y="867.5" width="5.2" height="8.3" fill="#e5484d" stroke="none"/>
<rect x="991.8" y="866.8" width="5.2" height="9" fill="#e5484d" stroke="none"/>
<rect x="998.6" y="866.1" width="5.2" height="9.7" fill="#e5484d" stroke="none"/>
<rect x="1005.4" y="872.2" width="5.2" height="3.6" fill="#f7b7ab" stroke="none"/>
<rect x="1012.2" y="875.8" width="5.2" height="1.3" fill="#8fcbf6" stroke="none"/>
<rect x="1019.1" y="875.8" width="5.2" height="2.9" fill="#8fcbf6" stroke="none"/>
<rect x="1025.9" y="875.8" width="5.2" height="5" fill="#8fcbf6" stroke="none"/>
<rect x="1032.7" y="875.8" width="5.2" height="3.6" fill="#1789ea" stroke="none"/>
<rect x="1039.6" y="875.8" width="5.2" height="1.8" fill="#1789ea" stroke="none"/>
<rect x="1046.4" y="875.8" width="5.2" height="1.3" fill="#1789ea" stroke="none"/>
<rect x="1053.2" y="875.8" width="5.2" height="1.3" fill="#1789ea" stroke="none"/>
<rect x="1060.1" y="874.5" width="5.2" height="1.3" fill="#e5484d" stroke="none"/>
<rect x="1066.9" y="871.8" width="5.2" height="4" fill="#e5484d" stroke="none"/>
<rect x="1073.7" y="870.8" width="5.2" height="5" fill="#e5484d" stroke="none"/>
<rect x="1080.5" y="869.7" width="5.2" height="6.1" fill="#e5484d" stroke="none"/>
<rect x="1087.4" y="870.4" width="5.2" height="5.4" fill="#f7b7ab" stroke="none"/>
<rect x="1094.2" y="871.8" width="5.2" height="4" fill="#f7b7ab" stroke="none"/>
<rect x="1101" y="868.6" width="5.2" height="7.2" fill="#e5484d" stroke="none"/>
<rect x="1107.9" y="864.3" width="5.2" height="11.5" fill="#e5484d" stroke="none"/>
<rect x="1114.7" y="860.7" width="5.2" height="15.1" fill="#e5484d" stroke="none"/>
<polyline points="0,866 13.4,866 26.7,864.6 40.1,863.6 53.5,864 66.9,865 80.2,864 93.6,863 107,863 120.4,863.6 133.7,865.6 147.1,868.6 160.5,870.6 173.9,872 187.2,873.3 200.6,874.3 214,874.6 234,874.6 247.4,873.6 260.8,871.6 274.2,871 287.5,872 300.9,874.6 314.3,875.6 327.6,874.6 341,873 354.4,872.3 367.8,873 381.1,874 394.5,875.3 407.9,875.6 421.3,875 434.6,873.3 440,871 453.4,867.6 466.7,862.9 480.1,857.6 493.5,852.9 506.9,849.6 520.2,846.2 537,844.2 553.7,841.9 573.7,840.2 590.4,837.9 607.2,835.5 623.9,832.5 640.6,829.2 657.3,824.5 670.7,819.5 680.7,815.1 689.1,813.5 699.1,814.1 710.8,818.5 724.2,826.2 737.6,835.2 750.9,843.6 764.3,851.2 774.3,855.3 784.4,857.3 794.4,857.9 807.8,856.9 824.5,857.9 841.2,859.6 857.9,860.9 871.3,860.3 884.7,858.3 898,856.5 916,855.8 934.1,854.4 952.1,852.2 970.1,849.3 988.2,845.7 1002.6,842.1 1013.4,842.1 1024.2,843.9 1038.6,845.7 1053,846.4 1067.5,845 1081.9,842.1 1096.3,839.6 1107.1,836.7 1117.9,832.4" stroke="#8b7ae2" stroke-width="1.6" />
<polyline points="0,865.3 13.4,866.3 23.4,863.6 33.4,861.9 40.1,861.6 50.2,864.3 66.9,865.6 80.2,861.6 93.6,861.3 107,862.6 117,864.3 127,868 137.1,871 143.8,873.6 153.8,874 167.2,873.6 180.5,874.6 193.9,875.6 207.3,875.3 227.3,874.6 237.4,874 247.4,869.6 257.4,868.6 267.5,869.3 277.5,872 287.5,874.3 295.9,878 304.2,877.6 314.3,875.3 327.6,873 337.7,870.3 347.7,871 357.7,873 371.1,873.6 384.5,876 394.5,877 404.5,876.3 414.6,874.6 424.6,872.3 434.6,870.3 440,869.6 446.7,865.3 455,859.6 463.4,855.3 473.4,849.6 483.5,846.2 490.1,843.6 503.5,841.9 516.9,839.5 526.9,840.9 537,841.9 550.3,839.2 560.4,839.5 570.4,839.5 580.4,836.2 590.4,833.5 603.8,832.9 617.2,829.2 626.6,824.5 638.9,825.2 654,819.5 667.3,809.5 674,808.4 680.7,802.4 689.1,810.1 697.4,816.8 707.5,823.5 717.5,835.2 729.2,847.6 740.9,853.6 750.9,858.6 761,863.6 769.3,866.3 776,867 787.7,862.6 796.1,858.6 804.4,855.3 812.8,857.6 821.1,860.3 834.5,861.9 846.2,863.6 857.9,861.9 868,859.6 878,855.3 888,853.6 894.4,852.9 908.8,855.4 926.9,854.7 941.3,851.1 955.7,849.3 964.7,847.5 973.7,846.8 986.3,839.2 1000,833.8 1008,840.3 1018.8,845.7 1028.5,850.7 1038.6,848.6 1049.4,846.4 1063.9,845.7 1072.9,841.4 1085.5,836.7 1096.3,836.7 1107.1,827.7 1117.9,817.9" stroke="#e8953a" stroke-width="1.6" />
<rect x="1.5" y="1020.2" width="5" height="13" fill="#0f8cf3" stroke="none"/>
<rect x="8.3" y="1019.6" width="5" height="13.6" fill="#0f8cf3" stroke="none"/>
<rect x="15.2" y="1014.2" width="5" height="19" fill="#f33d3e" stroke="none"/>
<rect x="22" y="1020.2" width="5" height="13" fill="#0f8cf3" stroke="none"/>
<rect x="28.8" y="1022.2" width="5" height="11" fill="#f33d3e" stroke="none"/>
<rect x="35.7" y="1017.6" width="5" height="15.6" fill="#0f8cf3" stroke="none"/>
<rect x="42.5" y="1021.9" width="5" height="11.3" fill="#0f8cf3" stroke="none"/>
<rect x="49.3" y="1022.6" width="5" height="10.6" fill="#f33d3e" stroke="none"/>
<rect x="56.1" y="1022.6" width="5" height="10.6" fill="#0f8cf3" stroke="none"/>
<rect x="63" y="1020.2" width="5" height="13" fill="#f33d3e" stroke="none"/>
<rect x="69.8" y="1017.9" width="5" height="15.3" fill="#f33d3e" stroke="none"/>
<rect x="76.6" y="1009.9" width="5" height="23.3" fill="#0f8cf3" stroke="none"/>
<rect x="83.5" y="1015.2" width="5" height="18" fill="#0f8cf3" stroke="none"/>
<rect x="90.3" y="1021.2" width="5" height="12" fill="#0f8cf3" stroke="none"/>
<rect x="97.1" y="1019.6" width="5" height="13.6" fill="#0f8cf3" stroke="none"/>
<rect x="104" y="1020.6" width="5" height="12.6" fill="#f33d3e" stroke="none"/>
<rect x="110.8" y="1015.5" width="5" height="17.7" fill="#f33d3e" stroke="none"/>
<rect x="117.6" y="1015.9" width="5" height="17.3" fill="#f33d3e" stroke="none"/>
<rect x="124.4" y="1023.2" width="5" height="10" fill="#f33d3e" stroke="none"/>
<rect x="131.3" y="1022.9" width="5" height="10.3" fill="#f33d3e" stroke="none"/>
<rect x="138.1" y="1014.2" width="5" height="19" fill="#f33d3e" stroke="none"/>
<rect x="144.9" y="1021.2" width="5" height="12" fill="#f33d3e" stroke="none"/>
<rect x="151.8" y="1019.6" width="5" height="13.6" fill="#0f8cf3" stroke="none"/>
<rect x="158.6" y="1021.2" width="5" height="12" fill="#f33d3e" stroke="none"/>
<rect x="165.4" y="1025.2" width="5" height="8" fill="#f33d3e" stroke="none"/>
<rect x="172.3" y="1022.2" width="5" height="11" fill="#f33d3e" stroke="none"/>
<rect x="179.1" y="1015.9" width="5" height="17.3" fill="#0f8cf3" stroke="none"/>
<rect x="185.9" y="1018.9" width="5" height="14.3" fill="#f33d3e" stroke="none"/>
<rect x="192.8" y="1022.2" width="5" height="11" fill="#f33d3e" stroke="none"/>
<rect x="199.6" y="1019.6" width="5" height="13.6" fill="#f33d3e" stroke="none"/>
<rect x="206.4" y="1024.2" width="5" height="9" fill="#0f8cf3" stroke="none"/>
<rect x="213.2" y="1021.9" width="5" height="11.3" fill="#0f8cf3" stroke="none"/>
<rect x="220.1" y="1008.5" width="5" height="24.7" fill="#f33d3e" stroke="none"/>
<rect x="226.9" y="1022.9" width="5" height="10.3" fill="#f33d3e" stroke="none"/>
<rect x="233.7" y="1025.2" width="5" height="8" fill="#0f8cf3" stroke="none"/>
<rect x="240.6" y="1017.6" width="5" height="15.6" fill="#f33d3e" stroke="none"/>
<rect x="247.4" y="1013.2" width="5" height="20" fill="#f33d3e" stroke="none"/>
<rect x="254.2" y="1018.2" width="5" height="15" fill="#0f8cf3" stroke="none"/>
<rect x="261" y="1021.6" width="5" height="11.6" fill="#f33d3e" stroke="none"/>
<rect x="267.9" y="1020.2" width="5" height="13" fill="#0f8cf3" stroke="none"/>
<rect x="274.7" y="1020.2" width="5" height="13" fill="#0f8cf3" stroke="none"/>
<rect x="281.5" y="1024.2" width="5" height="9" fill="#f33d3e" stroke="none"/>
<rect x="288.4" y="1014.2" width="5" height="19" fill="#0f8cf3" stroke="none"/>
<rect x="295.2" y="1019.9" width="5" height="13.3" fill="#0f8cf3" stroke="none"/>
<rect x="302" y="1014.9" width="5" height="18.3" fill="#f33d3e" stroke="none"/>
<rect x="308.9" y="1021.6" width="5" height="11.6" fill="#f33d3e" stroke="none"/>
<rect x="315.7" y="1022.9" width="5" height="10.3" fill="#f33d3e" stroke="none"/>
<rect x="322.5" y="1022.2" width="5" height="11" fill="#f33d3e" stroke="none"/>
<rect x="329.3" y="1017.6" width="5" height="15.6" fill="#f33d3e" stroke="none"/>
<rect x="336.2" y="1005.2" width="5" height="28" fill="#f33d3e" stroke="none"/>
<rect x="343" y="1018.6" width="5" height="14.6" fill="#0f8cf3" stroke="none"/>
<rect x="349.8" y="1019.6" width="5" height="13.6" fill="#f33d3e" stroke="none"/>
<rect x="356.7" y="1025.9" width="5" height="7.3" fill="#f33d3e" stroke="none"/>
<rect x="363.5" y="1023.9" width="5" height="9.3" fill="#0f8cf3" stroke="none"/>
<rect x="370.3" y="1023.9" width="5" height="9.3" fill="#f33d3e" stroke="none"/>
<rect x="377.2" y="1023.6" width="5" height="9.6" fill="#0f8cf3" stroke="none"/>
<rect x="384" y="1025.9" width="5" height="7.3" fill="#0f8cf3" stroke="none"/>
<rect x="390.8" y="1023.9" width="5" height="9.3" fill="#f33d3e" stroke="none"/>
<rect x="397.6" y="1025.9" width="5" height="7.3" fill="#0f8cf3" stroke="none"/>
<rect x="404.5" y="1020.9" width="5" height="12.3" fill="#f33d3e" stroke="none"/>
<rect x="411.3" y="1027.3" width="5" height="5.9" fill="#f33d3e" stroke="none"/>
<rect x="418.1" y="1016.9" width="5" height="16.3" fill="#f33d3e" stroke="none"/>
<rect x="425" y="1025.9" width="5" height="7.3" fill="#f33d3e" stroke="none"/>
<rect x="431.8" y="1019.9" width="5" height="13.3" fill="#f33d3e" stroke="none"/>
<rect x="438.6" y="1011.2" width="5" height="22" fill="#f33d3e" stroke="none"/>
<rect x="445.5" y="1004.2" width="5" height="29" fill="#f33d3e" stroke="none"/>
<rect x="452.3" y="1010.9" width="5" height="22.3" fill="#f33d3e" stroke="none"/>
<rect x="459.1" y="1017.2" width="5" height="16" fill="#0f8cf3" stroke="none"/>
<rect x="465.9" y="1010.9" width="5" height="22.3" fill="#f33d3e" stroke="none"/>
<rect x="472.8" y="1007.5" width="5" height="25.7" fill="#f33d3e" stroke="none"/>
<rect x="479.6" y="1003.5" width="5" height="29.7" fill="#0f8cf3" stroke="none"/>
<rect x="486.4" y="1016.2" width="5" height="17" fill="#0f8cf3" stroke="none"/>
<rect x="493.3" y="1020.2" width="5" height="13" fill="#f33d3e" stroke="none"/>
<rect x="500.1" y="1020.2" width="5" height="13" fill="#0f8cf3" stroke="none"/>
<rect x="506.9" y="1017.9" width="5" height="15.3" fill="#f33d3e" stroke="none"/>
<rect x="513.8" y="1016.9" width="5" height="16.3" fill="#0f8cf3" stroke="none"/>
<rect x="520.6" y="1010.2" width="5" height="23" fill="#0f8cf3" stroke="none"/>
<rect x="527.4" y="1012.5" width="5" height="20.7" fill="#0f8cf3" stroke="none"/>
<rect x="534.2" y="1012.5" width="5" height="20.7" fill="#f33d3e" stroke="none"/>
<rect x="541.1" y="1014.5" width="5" height="18.7" fill="#f33d3e" stroke="none"/>
<rect x="547.9" y="1008.2" width="5" height="25" fill="#0f8cf3" stroke="none"/>
<rect x="554.7" y="1015.9" width="5" height="17.3" fill="#0f8cf3" stroke="none"/>
<rect x="561.6" y="1015.2" width="5" height="18" fill="#f33d3e" stroke="none"/>
<rect x="568.4" y="1016.9" width="5" height="16.3" fill="#f33d3e" stroke="none"/>
<rect x="575.2" y="1011.2" width="5" height="22" fill="#f33d3e" stroke="none"/>
<rect x="582.1" y="1013.5" width="5" height="19.7" fill="#f33d3e" stroke="none"/>
<rect x="588.9" y="1011.5" width="5" height="21.7" fill="#0f8cf3" stroke="none"/>
<rect x="595.7" y="1010.9" width="5" height="22.3" fill="#0f8cf3" stroke="none"/>
<rect x="602.5" y="1013.2" width="5" height="20" fill="#f33d3e" stroke="none"/>
<rect x="609.4" y="1009.2" width="5" height="24" fill="#f33d3e" stroke="none"/>
<rect x="616.2" y="1010.2" width="5" height="23" fill="#0f8cf3" stroke="none"/>
<rect x="623" y="994.5" width="5" height="38.7" fill="#f33d3e" stroke="none"/>
<rect x="629.9" y="987.5" width="5" height="45.7" fill="#0f8cf3" stroke="none"/>
<rect x="636.7" y="1000.2" width="5" height="33" fill="#f33d3e" stroke="none"/>
<rect x="643.5" y="1007.2" width="5" height="26" fill="#f33d3e" stroke="none"/>
<rect x="650.4" y="1008.5" width="5" height="24.7" fill="#f33d3e" stroke="none"/>
<rect x="657.2" y="1004.5" width="5" height="28.7" fill="#f33d3e" stroke="none"/>
<rect x="664" y="987.5" width="5" height="45.7" fill="#f33d3e" stroke="none"/>
<rect x="670.8" y="949.4" width="5" height="83.8" fill="#0f8cf3" stroke="none"/>
<rect x="677.7" y="985.8" width="5" height="47.4" fill="#f33d3e" stroke="none"/>
<rect x="684.5" y="960.4" width="5" height="72.8" fill="#0f8cf3" stroke="none"/>
<rect x="691.3" y="991.8" width="5" height="41.4" fill="#f33d3e" stroke="none"/>
<rect x="698.2" y="1013.5" width="5" height="19.7" fill="#0f8cf3" stroke="none"/>
<rect x="705" y="1014.5" width="5" height="18.7" fill="#0f8cf3" stroke="none"/>
<rect x="711.8" y="1000.8" width="5" height="32.4" fill="#0f8cf3" stroke="none"/>
<rect x="718.7" y="1006.9" width="5" height="26.3" fill="#f33d3e" stroke="none"/>
<rect x="725.5" y="1006.9" width="5" height="26.3" fill="#0f8cf3" stroke="none"/>
<rect x="732.3" y="1012.5" width="5" height="20.7" fill="#f33d3e" stroke="none"/>
<rect x="739.1" y="1017.6" width="5" height="15.6" fill="#0f8cf3" stroke="none"/>
<rect x="746" y="1022.6" width="5" height="10.6" fill="#0f8cf3" stroke="none"/>
<rect x="752.8" y="1017.2" width="5" height="16" fill="#0f8cf3" stroke="none"/>
<rect x="759.6" y="1021.2" width="5" height="12" fill="#f33d3e" stroke="none"/>
<rect x="766.5" y="1023.2" width="5" height="10" fill="#0f8cf3" stroke="none"/>
<rect x="773.3" y="1017.6" width="5" height="15.6" fill="#f33d3e" stroke="none"/>
<rect x="780.1" y="1014.5" width="5" height="18.7" fill="#f33d3e" stroke="none"/>
<rect x="787" y="1018.2" width="5" height="15" fill="#0f8cf3" stroke="none"/>
<rect x="793.8" y="1010.9" width="5" height="22.3" fill="#f33d3e" stroke="none"/>
<rect x="800.6" y="1011.2" width="5" height="22" fill="#0f8cf3" stroke="none"/>
<rect x="807.4" y="1011.9" width="5" height="21.3" fill="#f33d3e" stroke="none"/>
<rect x="814.3" y="1014.2" width="5" height="19" fill="#0f8cf3" stroke="none"/>
<rect x="821.1" y="1021.9" width="5" height="11.3" fill="#0f8cf3" stroke="none"/>
<rect x="827.9" y="1017.9" width="5" height="15.3" fill="#0f8cf3" stroke="none"/>
<rect x="834.8" y="1018.2" width="5" height="15" fill="#0f8cf3" stroke="none"/>
<rect x="841.6" y="1014.5" width="5" height="18.7" fill="#f33d3e" stroke="none"/>
<rect x="848.4" y="1018.9" width="5" height="14.3" fill="#f33d3e" stroke="none"/>
<rect x="855.3" y="1018.2" width="5" height="15" fill="#0f8cf3" stroke="none"/>
<rect x="862.1" y="1020.2" width="5" height="13" fill="#f33d3e" stroke="none"/>
<rect x="868.9" y="1022.6" width="5" height="10.6" fill="#f33d3e" stroke="none"/>
<rect x="875.8" y="1017.6" width="5" height="15.6" fill="#0f8cf3" stroke="none"/>
<rect x="882.6" y="1021.8" width="5" height="11.4" fill="#0f8cf3" stroke="none"/>
<rect x="889.4" y="1021.8" width="5" height="11.4" fill="#0f8cf3" stroke="none"/>
<rect x="896.2" y="1023.2" width="5" height="10" fill="#f33d3e" stroke="none"/>
<rect x="903.1" y="1019.6" width="5" height="13.6" fill="#0f8cf3" stroke="none"/>
<rect x="909.9" y="1023.2" width="5" height="10" fill="#0f8cf3" stroke="none"/>
<rect x="916.7" y="1023.9" width="5" height="9.3" fill="#f33d3e" stroke="none"/>
<rect x="923.6" y="1020.3" width="5" height="12.9" fill="#f33d3e" stroke="none"/>
<rect x="930.4" y="1018.2" width="5" height="15" fill="#f33d3e" stroke="none"/>
<rect x="937.2" y="1010.2" width="5" height="23" fill="#0f8cf3" stroke="none"/>
<rect x="944" y="1017.5" width="5" height="15.7" fill="#0f8cf3" stroke="none"/>
<rect x="950.9" y="1019.6" width="5" height="13.6" fill="#0f8cf3" stroke="none"/>
<rect x="957.7" y="1018.9" width="5" height="14.3" fill="#f33d3e" stroke="none"/>
<rect x="964.5" y="1016.4" width="5" height="16.8" fill="#f33d3e" stroke="none"/>
<rect x="971.4" y="1019.6" width="5" height="13.6" fill="#f33d3e" stroke="none"/>
<rect x="978.2" y="1013.1" width="5" height="20.1" fill="#f33d3e" stroke="none"/>
<rect x="985" y="1014.9" width="5" height="18.3" fill="#f33d3e" stroke="none"/>
<rect x="991.9" y="1023.2" width="5" height="10" fill="#0f8cf3" stroke="none"/>
<rect x="998.7" y="1019.6" width="5" height="13.6" fill="#f33d3e" stroke="none"/>
<rect x="1005.5" y="1005.2" width="5" height="28" fill="#0f8cf3" stroke="none"/>
<rect x="1012.3" y="1018.9" width="5" height="14.3" fill="#0f8cf3" stroke="none"/>
<rect x="1019.2" y="1018.9" width="5" height="14.3" fill="#0f8cf3" stroke="none"/>
<rect x="1026" y="1018.2" width="5" height="15" fill="#0f8cf3" stroke="none"/>
<rect x="1032.8" y="1014.2" width="5" height="19" fill="#f33d3e" stroke="none"/>
<rect x="1039.7" y="1017.1" width="5" height="16.1" fill="#f33d3e" stroke="none"/>
<rect x="1046.5" y="1017.8" width="5" height="15.4" fill="#f33d3e" stroke="none"/>
<rect x="1053.3" y="1020.7" width="5" height="12.5" fill="#f33d3e" stroke="none"/>
<rect x="1060.2" y="1013.9" width="5" height="19.3" fill="#f33d3e" stroke="none"/>
<rect x="1067" y="1004.5" width="5" height="28.7" fill="#f33d3e" stroke="none"/>
<rect x="1073.8" y="1010.2" width="5" height="23" fill="#0f8cf3" stroke="none"/>
<rect x="1080.6" y="1008.4" width="5" height="24.8" fill="#0f8cf3" stroke="none"/>
<rect x="1087.5" y="1013.5" width="5" height="19.7" fill="#f33d3e" stroke="none"/>
<rect x="1094.3" y="1004.5" width="5" height="28.7" fill="#0f8cf3" stroke="none"/>
<rect x="1101.1" y="1003.4" width="5" height="29.8" fill="#f33d3e" stroke="none"/>
<rect x="1108" y="980.3" width="5" height="52.9" fill="#0f8cf3" stroke="none"/>
<rect x="1114.8" y="1021.4" width="5" height="11.8" fill="#f33d3e" stroke="none"/>
<polyline points="0,1016.9 66.9,1017.9 133.7,1017.9 200.6,1019.6 267.5,1020.3 334.3,1019.3 401.2,1021.3 440,1020.3 440,1022 473.4,1018.6 506.9,1016.9 540.3,1014.6 573.7,1012.6 607.2,1011.3 633.9,1009.3 660.7,1007.9 680.7,1002.6 694.1,999.2 727.5,997.6 754.3,999.2 774.3,1001.9 797.7,1004.6 811.1,1008.6 824.5,1014.3 841.2,1015.3 874.6,1016.9 880,1018 916,1019.4 952.1,1018.7 988.1,1019.4 1024.2,1018.7 1053,1016.9 1078.3,1013.3 1096.3,1012.6 1117.9,1012.2" stroke="#6f80e4" stroke-width="1.5" />
</g>
<circle cx="51.1" cy="982.5" r="29.8" fill="#fff" stroke="#ededed" stroke-width="1.4"/>
<path d="M34.6 975.1H48.4V992.7H41.6V981.7H34.6Z M62.2 975.1H69.8L62.8 992.7H55.2Z" fill="#000"/><circle cx="54.4" cy="978.7" r="4.1" fill="#000"/>
<path d="M1117.8 192V208.2M1114.1 204.8L1117.8 208.6L1121.5 204.8" fill="none" stroke="#cf4e4a" stroke-width="1.6"/>
<path d="M142.1 547V527.3M138.4 531L142.1 527L145.8 531" fill="none" stroke="#2d86c0" stroke-width="1.7"/>
<rect x="1082" y="15.2" width="58.6" height="52.6" rx="13" fill="#e9edf1"/>
<rect x="1315.9" y="34.7" width="21.2" height="15.4" rx="3.4" fill="#0a8ffb"/>
<path d="M1311.6 36.2C1311.8 33 1313.6 31 1317 31H1323.2" fill="none" stroke="#666c73" stroke-width="2.1" stroke-linecap="round"/>
<path d="M1319.2 26.3L1325 31.2L1319.6 31.6Z" fill="#666c73" stroke="#666c73" stroke-width="1.2" stroke-linejoin="round"/>
<path d="M1341.2 48.8C1341 52 1339.2 54 1335.8 54H1329.6" fill="none" stroke="#666c73" stroke-width="2.1" stroke-linecap="round"/>
<path d="M1333.6 58.7L1327.8 53.8L1333.2 53.4Z" fill="#666c73" stroke="#666c73" stroke-width="1.2" stroke-linejoin="round"/>
<path d="M975.4 38H984L979.7 43.4Z" fill="#6b7684"/>
<path d="M1055.8 38H1064.4L1060.1 43.4Z" fill="#6b7684"/>
<path d="M97.2 58.8L101.1 54.3L105 58.8Z" fill="#dd4e50"/>
</svg>
<div class="t" id="t31" style="left:1273px;top:88.12px;font-size:21.9px;color:#a1a5a9;transform:scaleX(0.9138);">520.00</div>
<div class="t" id="t32" style="left:1273.9px;top:161.72px;font-size:21.9px;color:#a1a5a9;transform:scaleX(0.9000);">480.00</div>
<div class="t" id="t33" style="left:1273.9px;top:236.12px;font-size:21.9px;color:#a1a5a9;transform:scaleX(0.9000);">440.00</div>
<div class="t" id="t34" style="left:1273.9px;top:310.42px;font-size:21.9px;color:#a1a5a9;transform:scaleX(0.9000);">400.00</div>
<div class="t" id="t35" style="left:1273px;top:384.12px;font-size:21.9px;color:#a1a5a9;transform:scaleX(0.9138);">360.00</div>
<div class="t" id="t36" style="left:1273px;top:457.92px;font-size:21.9px;color:#a1a5a9;transform:scaleX(0.9138);">320.00</div>
<div class="t" id="t37" style="left:1273px;top:531.92px;font-size:21.9px;color:#a1a5a9;transform:scaleX(0.9138);">280.00</div>
<div class="t" id="t38" style="left:1272.9px;top:673.62px;font-size:21.9px;color:#a1a5a9;transform:scaleX(0.8455);">0</div>
<div class="t" id="t39" style="left:1272.8px;top:767.02px;font-size:21.9px;color:#a1a5a9;transform:scaleX(0.9038);">20.00</div>
<div class="t" id="t40" style="left:1272.9px;top:861.42px;font-size:21.9px;color:#a1a5a9;transform:scaleX(0.8455);">0</div>
<div class="t" id="t41" style="left:1273.7px;top:964.76px;font-size:21.7px;color:#a1a5a9;transform:scaleX(0.8700);">4,000.0<span class="k" style="font-size:0.87em">만</span></div>
<svg class="layer" width="1376" height="1136" viewBox="0 0 1376 1136"><path d="M1259.8 211H1338.8a3 3 0 0 1 3 3V235.9a3 3 0 0 1 -3 3H1259.8Z" fill="#fb3b3d"/><path d="M1260.2 616.3H1327.6a3 3 0 0 1 3 3V641.8a3 3 0 0 1 -3 3H1260.2Z" fill="#0d8bf7"/><path d="M1260.2 790.2H1328a3 3 0 0 1 3 3V815.5a3 3 0 0 1 -3 3H1260.2Z" fill="#fd8a04"/><path d="M1260.2 818.6H1317.8a3 3 0 0 1 3 3V844a3 3 0 0 1 -3 3H1260.2Z" fill="#8a79fd"/><path d="M1260.2 847.4H1317.8a3 3 0 0 1 3 3V872.6a3 3 0 0 1 -3 3H1260.2Z" fill="#fb3b3d"/><path d="M1260.2 977.4H1364.9a3 3 0 0 1 3 3V1002.8a3 3 0 0 1 -3 3H1260.2Z" fill="#5c7cf8"/><path d="M1260.2 1006.3H1348.1a3 3 0 0 1 3 3V1030.8a3 3 0 0 1 -3 3H1260.2Z" fill="#fb3b3d"/></svg>
<div class="t" id="t0" style="left:26.5px;top:15.12px;font-size:20.6px;color:#191f28;font-weight:700;transform:scaleX(0.9262);">GLD</div>
<div class="t" id="t1" style="left:27.1px;top:45.21px;font-size:14.8px;color:#dd4e50;-webkit-text-stroke:0.4px #dd4e50;transform:scaleX(1.1321);">$453.86</div>
<div class="t" id="t2" style="left:111.6px;top:45.21px;font-size:14.8px;color:#dd4e50;-webkit-text-stroke:0.4px #dd4e50;transform:scaleX(1.0524);">2.32%</div>
<div class="t" id="t3" style="left:923px;top:26.30px;font-size:21.5px;color:#6b7684;-webkit-text-stroke:0.4px #6b7684;transform:scaleX(1.0548);">60<span class="k" style="font-size:0.99em">틱</span></div>
<div class="t" id="t4" style="left:1017.8px;top:26.30px;font-size:21.5px;color:#6b7684;-webkit-text-stroke:0.4px #6b7684;transform:scaleX(1.0452);">5<span class="k" style="font-size:0.99em">분</span></div>
<div class="t" id="t5" style="left:1101.4px;top:25.90px;font-size:21.5px;color:#191f28;font-weight:700;transform:scaleX(0.9611);"><span class="k" style="font-size:0.97em">일</span></div>
<div class="t" id="t6" style="left:1163.8px;top:26.10px;font-size:21.5px;color:#6b7684;transform:scaleX(0.9842);"><span class="k" style="font-size:0.97em">주</span></div>
<div class="t" id="t7" style="left:1226.8px;top:26.10px;font-size:21.5px;color:#6b7684;transform:scaleX(1.0611);"><span class="k" style="font-size:0.97em">월</span></div>
<div class="t" id="t8" style="left:9.5px;top:94.71px;font-size:19.6px;color:#191f28;-webkit-text-stroke:0.45px #191f28;transform:scaleX(1.0056);"><span class="k" style="font-size:0.94em">이동평균선</span></div>
<div class="t" id="t9" style="left:108.4px;top:94.71px;font-size:19.6px;color:#8d7cdd;-webkit-text-stroke:0.45px #8d7cdd;transform:scaleX(0.8700);">5</div>
<div class="t" id="t10" style="left:122px;top:94.71px;font-size:19.6px;color:#6686d8;-webkit-text-stroke:0.45px #6686d8;transform:scaleX(1.0238);">20</div>
<div class="t" id="t11" style="left:149.1px;top:94.71px;font-size:19.6px;color:#3fb2a3;-webkit-text-stroke:0.45px #3fb2a3;transform:scaleX(0.9524);">60</div>
<div class="t" id="t12" style="left:174.8px;top:94.71px;font-size:19.6px;color:#edc23a;-webkit-text-stroke:0.45px #edc23a;transform:scaleX(1.0065);">120</div>
<div class="t" id="t13" style="left:211.5px;top:94.71px;font-size:19.6px;color:#99a3ae;-webkit-text-stroke:0.45px #99a3ae;transform:scaleX(0.9643);">SMA</div>
<div class="t" id="t14" style="left:9.5px;top:124.21px;font-size:19.6px;color:#191f28;-webkit-text-stroke:0.45px #191f28;transform:scaleX(0.9944);"><span class="k" style="font-size:0.94em">볼린저밴드</span></div>
<div class="t" id="t15" style="left:108.3px;top:124.21px;font-size:19.6px;color:#90c5ee;-webkit-text-stroke:0.45px #90c5ee;transform:scaleX(1.0057);"><span class="k" style="font-size:0.94em">상단</span></div>
<div class="t" id="t16" style="left:147px;top:124.21px;font-size:19.6px;color:#f0962c;-webkit-text-stroke:0.45px #f0962c;transform:scaleX(1.0229);"><span class="k" style="font-size:0.94em">중간</span></div>
<div class="t" id="t17" style="left:187px;top:124.21px;font-size:19.6px;color:#90c5ee;-webkit-text-stroke:0.45px #90c5ee;transform:scaleX(0.9857);"><span class="k" style="font-size:0.94em">하단</span></div>
<div class="t" id="t18" style="left:9.5px;top:153.61px;font-size:19.6px;color:#191f28;-webkit-text-stroke:0.45px #191f28;transform:scaleX(0.9944);"><span class="k" style="font-size:0.94em">일목균형표</span></div>
<div class="t" id="t19" style="left:108.3px;top:153.61px;font-size:19.6px;color:#2c8bd8;-webkit-text-stroke:0.45px #2c8bd8;transform:scaleX(1.0057);"><span class="k" style="font-size:0.94em">전환</span></div>
<div class="t" id="t20" style="left:147px;top:153.61px;font-size:19.6px;color:#8a2334;-webkit-text-stroke:0.45px #8a2334;transform:scaleX(1.0229);"><span class="k" style="font-size:0.94em">기준</span></div>
<div class="t" id="t21" style="left:187.8px;top:153.61px;font-size:19.6px;color:#a6d6a6;-webkit-text-stroke:0.45px #a6d6a6;transform:scaleX(0.9783);"><span class="k" style="font-size:0.94em">선행</span>1</div>
<div class="t" id="t22" style="left:238.5px;top:153.61px;font-size:19.6px;color:#f1a9a9;-webkit-text-stroke:0.45px #f1a9a9;transform:scaleX(1.0174);"><span class="k" style="font-size:0.94em">선행</span>2</div>
<div class="t" id="t23" style="left:289px;top:153.61px;font-size:19.6px;color:#4d9b51;-webkit-text-stroke:0.45px #4d9b51;transform:scaleX(1.0294);"><span class="k" style="font-size:0.94em">후행</span></div>
<div class="t" id="t24" style="left:9.5px;top:183.71px;font-size:19.6px;color:#191f28;-webkit-text-stroke:0.45px #191f28;transform:scaleX(1.0250);"><span class="k" style="font-size:0.94em">매물대</span></div>
<div class="t" id="t25" style="left:71.5px;top:183.71px;font-size:19.6px;color:#9ba6b2;-webkit-text-stroke:0.45px #9ba6b2;transform:scaleX(1.0143);">24</div>
<div class="t" id="t26" style="left:883.8px;top:163.87px;font-size:18.2px;color:#d9584f;transform:scaleX(0.9858);"><span class="k" style="font-size:0.92em">최고</span> $454.14 (+0.05%, 26.01.22.)</div>
<div class="t" id="t27" style="left:103.6px;top:545.17px;font-size:18.2px;color:#3a8ec4;transform:scaleX(0.9949);"><span class="k" style="font-size:0.92em">최저</span> $299.89 (-33.93%, 25.06.27.)</div>
<div class="t" id="t28" style="left:6.4px;top:597.09px;font-size:18.6px;color:#2e3138;transform:scaleX(0.8947);">MOM(10,<span class="k" style="font-size:0.87em">종가</span>)</div>
<div class="t" id="t29" style="left:6.8px;top:773.39px;font-size:18.6px;color:#2e3138;transform:scaleX(0.8622);">MACD(12,26,9)</div>
<div class="t" id="t30" style="left:6.5px;top:930.39px;font-size:18.6px;color:#2e3138;transform:scaleX(0.9188);"><span class="k" style="font-size:0.87em">거래량</span>(20)</div>
<div class="t" id="t42" style="left:1273.9px;top:210.29px;font-size:21.8px;color:#fff;-webkit-text-stroke:0.1px #fff;transform:scaleX(0.9076);">453.90</div>
<div class="t" id="t43" style="left:1274.7px;top:616.19px;font-size:21.8px;color:#fff;-webkit-text-stroke:0.1px #fff;transform:scaleX(0.8889);">44.66</div>
<div class="t" id="t44" style="left:1274.4px;top:790.29px;font-size:21.8px;color:#fff;-webkit-text-stroke:0.1px #fff;transform:scaleX(0.8906);">12.32</div>
<div class="t" id="t45" style="left:1273.5px;top:818.49px;font-size:21.8px;color:#fff;-webkit-text-stroke:0.1px #fff;transform:scaleX(0.8902);">9.21</div>
<div class="t" id="t46" style="left:1273.5px;top:846.69px;font-size:21.8px;color:#fff;-webkit-text-stroke:0.1px #fff;transform:scaleX(0.9122);">3.10</div>
<div class="t" id="t47" style="left:1274.3px;top:975.63px;font-size:21.6px;color:#fff;-webkit-text-stroke:0.1px #fff;transform:scaleX(0.9292);">1,498.6<span class="k" style="font-size:0.87em">만</span></div>
<div class="t" id="t48" style="left:1273px;top:1006.43px;font-size:21.6px;color:#fff;-webkit-text-stroke:0.1px #fff;transform:scaleX(0.9451);">832.2<span class="k" style="font-size:0.87em">만</span></div>
<div class="t" id="t49" style="left:5px;top:1046.02px;font-size:20.3px;color:#a4a8ac;transform:scaleX(1.0385);">6<span class="k" style="font-size:0.89em">월</span></div>
<div class="t" id="t50" style="left:142.5px;top:1046.02px;font-size:20.3px;color:#a4a8ac;transform:scaleX(1.0192);">7<span class="k" style="font-size:0.89em">월</span></div>
<div class="t" id="t51" style="left:291.4px;top:1046.02px;font-size:20.3px;color:#a4a8ac;transform:scaleX(1.0577);">8<span class="k" style="font-size:0.89em">월</span></div>
<div class="t" id="t52" style="left:433.9px;top:1046.02px;font-size:20.3px;color:#a4a8ac;transform:scaleX(1.0577);">9<span class="k" style="font-size:0.89em">월</span></div>
<div class="t" id="t53" style="left:572.5px;top:1046.02px;font-size:20.3px;color:#a4a8ac;transform:scaleX(0.9868);">10<span class="k" style="font-size:0.89em">월</span></div>
<div class="t" id="t54" style="left:729.5px;top:1046.02px;font-size:20.3px;color:#a4a8ac;transform:scaleX(0.9868);">11<span class="k" style="font-size:0.89em">월</span></div>
<div class="t" id="t55" style="left:879.5px;top:1046.02px;font-size:20.3px;color:#a4a8ac;">2</div>
<div class="t" id="t56" style="left:1170.4px;top:1046.02px;font-size:20.3px;color:#a4a8ac;transform:scaleX(1.0577);">2<span class="k" style="font-size:0.89em">월</span></div>
<div class="t" id="t57" style="left:1004.4px;top:1046.02px;font-size:20.3px;color:#8e9297;font-weight:700;transform:scaleX(1.0698);">2026</div>
<div id="frame"></div>
</div></body></html>
